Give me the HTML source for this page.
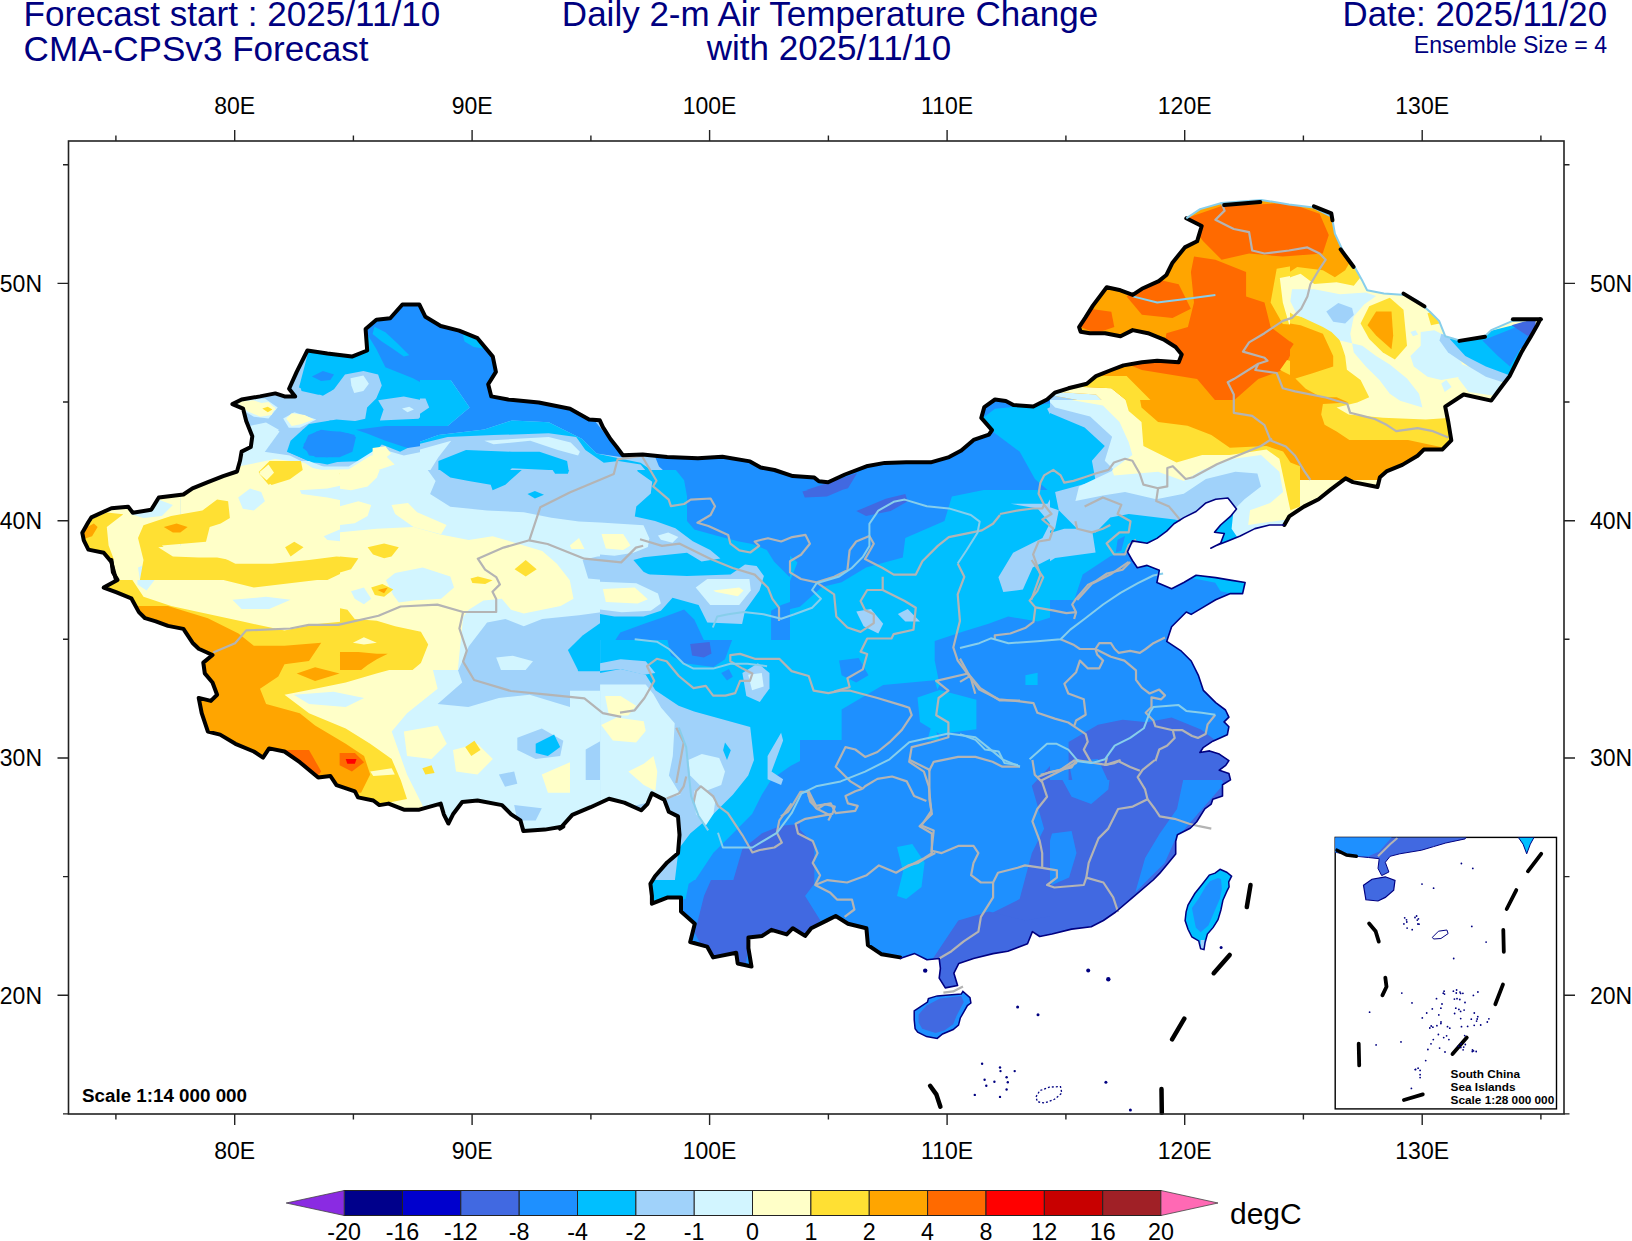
<!DOCTYPE html>
<html><head><meta charset="utf-8"><style>
html,body{margin:0;padding:0;background:#fff;width:1632px;height:1241px;overflow:hidden;position:relative}
svg text{font-family:"Liberation Sans",sans-serif}
</style></head><body>
<svg width="1632" height="1241" viewBox="0 0 1632 1241" style="position:absolute;left:0;top:0"><defs><clipPath id="cn"><path d="M116.0,579.9 L111.4,561.9 L103.7,552.7 L88.4,549.6 L83.8,540.4 L82.3,532.8 L88.4,522.0 L91.4,517.4 L111.4,508.2 L128.2,506.7 L132.8,512.8 L151.2,509.8 L158.8,497.5 L171.1,496.0 L183.4,494.5 L192.5,488.3 L207.9,482.2 L223.2,476.1 L237.0,471.5 L240.0,460.8 L241.6,451.6 L250.8,447.0 L252.3,436.2 L246.2,420.9 L243.1,408.7 L232.4,404.1 L241.6,399.5 L260.0,396.4 L275.3,393.4 L284.5,396.4 L295.2,396.4 L289.1,388.8 L296.7,371.9 L307.4,350.5 L327.4,353.5 L351.9,356.6 L367.2,350.5 L365.6,329.0 L376.4,319.8 L390.2,318.3 L402.4,304.5 L419.3,304.5 L425.4,316.8 L440.7,326.0 L459.1,330.6 L477.5,338.2 L492.8,356.6 L495.9,371.9 L488.2,384.2 L491.3,396.4 L508.1,399.5 L538.8,402.5 L570.0,408.7 L575.3,411.7 L589.1,419.4 L599.8,420.3 L602.9,427.1 L610.6,439.3 L616.7,447.0 L622.8,455.2 L642.7,454.6 L667.2,457.1 L697.9,458.3 L722.4,456.8 L750.0,461.4 L760.7,467.5 L774.5,470.0 L792.8,476.1 L814.3,477.6 L818.9,481.3 L828.1,482.2 L844.9,474.5 L866.4,466.3 L884.8,462.9 L906.2,462.3 L930.7,462.3 L949.1,457.1 L961.3,450.6 L973.6,439.9 L988.9,434.7 L992.0,430.1 L981.3,417.9 L984.3,407.1 L995.0,399.5 L1005.8,401.0 L1013.4,405.0 L1033.3,406.5 L1047.1,399.5 L1054.8,392.7 L1068.4,388.3 L1086.8,383.7 L1096.0,376.1 L1111.3,370.0 L1123.5,365.4 L1141.9,362.3 L1157.2,360.8 L1178.7,362.3 L1181.7,354.6 L1175.6,347.0 L1163.4,339.3 L1148.0,333.2 L1132.7,330.1 L1120.5,336.2 L1105.1,333.2 L1089.8,333.2 L1080.6,331.7 L1079.1,327.1 L1085.2,317.9 L1092.9,305.6 L1106.7,287.2 L1120.5,290.3 L1132.7,294.9 L1141.9,288.8 L1158.8,281.1 L1166.4,275.0 L1172.5,262.7 L1184.8,247.4 L1197.1,241.3 L1201.7,226.0 L1186.3,218.3 L1200.1,209.1 L1221.6,203.0 L1261.4,199.9 L1289.0,204.5 L1313.5,207.6 L1331.9,216.8 L1334.9,233.6 L1344.1,253.5 L1354.8,267.3 L1362.5,281.1 L1367.1,290.3 L1383.9,293.4 L1405.4,294.9 L1417.6,301.0 L1429.9,311.7 L1439.1,320.9 L1445.2,336.2 L1460.5,340.8 L1485.0,336.2 L1491.2,330.1 L1512.6,320.9 L1540.2,319.4 L1537.1,325.5 L1531.0,336.2 L1521.8,351.6 L1515.7,363.8 L1509.6,376.1 L1500.4,388.3 L1491.2,400.6 L1463.6,394.5 L1445.2,406.7 L1448.3,422.0 L1451.3,440.4 L1442.2,449.6 L1423.8,449.6 L1417.6,455.7 L1402.3,464.9 L1387.0,471.1 L1379.9,477.2 L1377.5,487.0 L1352.9,482.1 L1345.6,478.4 L1330.9,489.4 L1318.6,499.2 L1303.9,506.6 L1289.2,516.4 L1284.3,525.0 L1284.3,525.0 L1269.6,525.0 L1254.9,528.6 L1240.2,536.0 L1227.9,540.9 L1215.7,545.8 L1210.8,548.2 L1220.6,543.3 L1224.3,533.5 L1214.5,532.3 L1220.6,525.0 L1230.4,516.4 L1236.5,509.0 L1227.9,498.0 L1215.7,499.2 L1205.9,502.9 L1196.1,511.5 L1183.8,517.6 L1174.0,523.7 L1166.7,531.1 L1156.9,538.4 L1147.1,543.3 L1132.4,540.9 L1127.5,551.9 L1132.4,560.5 L1137.3,567.8 L1147.1,565.4 L1159.3,570.3 L1156.9,582.5 L1171.6,588.7 L1183.8,582.5 L1196.1,575.2 L1215.7,577.6 L1230.4,580.1 L1245.1,582.5 L1242.6,593.6 L1230.4,593.6 L1215.7,599.7 L1203.4,607.1 L1191.2,614.4 L1186.3,612.0 L1171.6,626.7 L1166.7,641.4 L1181.4,651.2 L1191.2,661.0 L1198.5,675.7 L1203.4,690.4 L1215.7,702.6 L1225.5,710.0 L1228.9,717.1 L1224.1,721.9 L1228.9,726.7 L1227.3,734.8 L1212.8,741.2 L1203.1,747.7 L1199.9,752.5 L1209.6,750.9 L1219.3,754.1 L1228.9,760.6 L1225.7,765.4 L1219.3,770.2 L1228.9,773.5 L1230.5,779.9 L1222.5,784.8 L1222.5,796.0 L1212.8,799.3 L1211.2,804.1 L1204.8,808.9 L1196.7,821.8 L1190.2,828.3 L1177.4,834.7 L1175.7,841.2 L1175.7,854.1 L1167.7,863.7 L1159.6,873.4 L1153.2,880.0 L1132.8,897.3 L1115.7,912.0 L1103.4,920.5 L1091.2,926.7 L1071.6,929.1 L1052.0,934.0 L1039.7,936.5 L1032.4,931.6 L1027.5,943.8 L1007.8,951.2 L993.1,953.6 L973.5,958.5 L958.8,963.4 L953.9,973.2 L957.6,985.5 L945.3,987.9 L939.2,978.1 L940.4,968.3 L939.2,958.5 L927.0,959.8 L914.7,953.6 L900.0,958.5 L900.1,957.4 L881.7,954.3 L867.9,945.1 L866.4,928.2 L848.0,923.7 L835.7,916.0 L826.5,920.6 L811.2,928.2 L805.1,935.9 L792.8,928.2 L786.7,934.4 L771.4,929.8 L762.2,935.9 L748.4,937.4 L748.4,948.2 L751.5,966.5 L737.7,963.5 L736.2,952.8 L713.2,957.4 L707.1,946.6 L690.2,942.0 L694.8,923.7 L681.0,911.4 L681.0,897.6 L667.2,897.6 L651.9,903.7 L651.9,896.1 L650.4,883.8 L655.0,876.2 L667.2,862.4 L678.0,853.2 L679.5,834.8 L678.0,816.4 L668.8,811.8 L664.2,799.6 L651.9,793.4 L647.3,804.2 L641.2,810.3 L624.3,802.6 L609.0,798.7 L590.6,807.2 L572.3,814.9 L560.0,828.7 L563.3,826.5 L544.9,829.6 L523.4,831.1 L520.4,820.4 L511.2,814.3 L502.0,805.1 L477.5,800.5 L462.2,802.0 L453.0,814.3 L448.4,823.5 L443.8,814.3 L440.7,803.6 L419.3,809.7 L403.9,809.7 L388.6,803.6 L379.4,805.1 L373.3,800.5 L358.0,797.4 L354.9,791.3 L336.5,785.2 L330.4,776.0 L318.2,777.5 L299.8,762.2 L284.5,751.5 L269.1,748.4 L263.0,757.6 L253.8,751.5 L235.4,743.8 L220.1,734.6 L207.9,731.6 L201.7,713.2 L198.7,697.9 L210.9,700.9 L217.1,694.8 L212.5,682.5 L204.8,673.4 L203.3,662.6 L212.5,655.0 L198.7,648.8 L192.5,642.7 L183.4,628.9 L168.0,625.9 L155.8,621.3 L145.1,618.2 L138.9,612.1 L131.3,598.3 L116.0,592.2 L103.7,587.6 L117.5,579.9 L112.9,572.3 L111.4,560.0Z"/></clipPath></defs><g clip-path="url(#cn)"><rect x="0" y="0" width="1632" height="1241" fill="#1e90ff"/><path d="M220.0,290.0 L520.0,290.0 L520.0,490.0 L220.0,490.0Z" fill="#a0d2fa"/><path d="M180.3,380.0 L370.0,380.0 L370.0,468.2 L327.4,466.4 L309.0,460.9 L272.2,459.0 L253.8,466.4 L235.4,471.9 L180.3,475.6Z" fill="#a0d2fa"/><path d="M310.1,345.1 L299.0,387.4 L322.9,395.7 L334.0,389.3 L345.0,374.6 L363.4,370.9 L378.1,374.6 L381.8,385.6 L376.2,398.5 L367.1,407.6 L365.2,418.7 L348.7,422.4 L330.3,420.5 L302.7,429.7 L288.0,451.8 L311.9,462.8 L367.1,461.0 L381.8,444.4 L400.1,451.8 L422.2,440.7 L449.8,442.6 L486.5,437.1 L520.0,437.1 L520.0,290.0 L310.1,290.0Z" fill="#00bfff"/><path d="M290.6,440.7 L309.0,424.1 L336.5,419.5 L370.0,422.3 L370.0,453.5 L349.4,459.0 L327.4,464.6 L309.0,460.9 L286.9,451.7Z" fill="#00bfff"/><path d="M299.8,385.5 L309.0,378.2 L336.5,378.2 L331.0,391.0 L318.2,394.7 L301.6,391.0Z" fill="#00bfff"/><path d="M239.1,457.2 L246.5,449.9 L253.8,459.0 L246.5,464.6Z" fill="#00bfff"/><path d="M365.2,328.6 L403.8,299.2 L520.0,299.2 L520.0,426.0 L486.5,426.9 L449.8,426.0 L470.0,409.5 L440.6,392.9 L413.0,378.2 L385.4,367.2 L376.2,348.8 L367.1,334.1Z" fill="#1e90ff"/><path d="M356.0,429.7 L385.4,426.0 L422.2,426.0 L449.8,426.0 L486.5,426.9 L520.0,424.2 L520.0,437.1 L486.5,438.9 L459.0,442.6 L431.4,444.4 L407.5,448.1 L385.4,440.7 L367.1,433.4Z" fill="#1e90ff"/><path d="M302.7,448.1 L308.2,435.2 L321.1,429.7 L348.7,433.4 L356.0,437.1 L352.4,451.8 L339.5,457.3 L315.6,457.3Z" fill="#1e90ff"/><path d="M311.9,376.4 L322.9,370.9 L334.0,374.6 L330.3,380.1 L321.1,381.0Z" fill="#1e90ff"/><path d="M303.5,444.3 L316.3,431.5 L340.2,431.5 L354.9,435.1 L349.4,451.7 L327.4,457.2 L309.0,455.4Z" fill="#1e90ff"/><path d="M378.1,400.3 L403.8,396.6 L422.2,400.3 L429.6,407.6 L418.5,418.7 L379.9,420.5 L383.6,409.5Z" fill="#a0d2fa"/><path d="M374.4,326.8 L385.4,332.3 L396.5,342.4 L409.3,355.3 L403.8,356.5 L392.8,348.8 L381.8,341.5 L372.6,334.1Z" fill="#00bfff"/><path d="M462.6,334.1 L481.0,339.6 L484.7,348.8 L473.7,347.0 L464.5,341.5Z" fill="#00bfff"/><path d="M436.9,462.8 L449.8,455.4 L468.2,449.9 L520.0,448.1 L520.0,490.0 L486.5,484.9 L459.0,475.7 L440.6,473.8Z" fill="#00bfff"/><path d="M350.5,378.2 L363.4,375.5 L368.9,383.8 L363.4,391.1 L354.2,392.9 L351.4,385.6Z" fill="#d2f5ff"/><path d="M220.0,404.0 L238.4,400.3 L249.4,426.0 L266.0,422.4 L278.8,429.7 L264.1,451.8 L289.9,455.4 L311.9,466.5 L348.7,466.5 L378.1,448.1 L403.8,455.4 L422.2,451.8 L440.6,442.6 L484.7,438.9 L520.0,437.1 L520.0,446.2 L486.5,451.8 L459.0,455.4 L436.9,459.1 L431.4,473.8 L440.6,490.0 L220.0,490.0Z" fill="#d2f5ff"/><path d="M235.4,400.2 L264.9,398.4 L277.7,407.6 L268.5,418.6 L253.8,416.8 L244.6,411.2Z" fill="#d2f5ff"/><path d="M283.2,418.6 L294.3,412.2 L316.3,419.5 L299.8,427.8 L288.8,427.8Z" fill="#d2f5ff"/><path d="M248.3,427.8 L264.9,423.2 L279.6,431.5 L264.9,451.7 L253.8,459.0 L246.5,453.5 L242.8,435.1Z" fill="#d2f5ff"/><path d="M180.3,482.9 L228.1,475.6 L244.6,468.2 L263.0,464.6 L281.4,460.9 L309.0,460.9 L327.4,468.2 L370.0,470.1 L370.0,580.0 L180.3,580.0Z" fill="#d2f5ff"/><path d="M402.0,408.6 L409.3,406.7 L413.9,409.5 L407.5,412.2Z" fill="#d2f5ff"/><path d="M220.0,473.8 L238.4,466.5 L256.8,462.8 L275.1,459.1 L304.6,462.8 L315.6,470.1 L348.7,469.2 L370.7,455.4 L385.4,455.4 L394.6,464.6 L367.1,473.8 L376.2,490.0 L220.0,490.0Z" fill="#ffffc8"/><path d="M236.5,402.1 L253.1,400.3 L275.1,407.6 L271.5,415.0 L260.4,416.8 L247.6,411.3Z" fill="#ffffc8"/><path d="M286.2,418.7 L291.7,413.2 L304.6,415.0 L313.8,419.6 L300.9,424.2 L291.7,426.0Z" fill="#ffffc8"/><path d="M372.6,448.1 L385.4,446.2 L391.0,453.6 L381.8,461.0 L372.6,457.3Z" fill="#ffffc8"/><path d="M253.8,403.9 L268.5,402.1 L275.9,409.4 L264.9,413.1Z" fill="#ffffc8"/><path d="M288.8,418.6 L301.6,416.8 L307.1,419.5 L296.1,423.2Z" fill="#ffffc8"/><path d="M180.3,490.3 L228.1,477.4 L253.8,472.8 L272.2,467.3 L299.8,465.5 L327.4,471.0 L370.0,472.8 L370.0,580.0 L180.3,580.0Z" fill="#ffffc8"/><path d="M70.0,508.7 L125.1,497.6 L180.3,490.3 L180.3,580.0 L70.0,580.0Z" fill="#ffffc8"/><path d="M238.2,497.6 L250.1,488.5 L261.2,492.1 L264.9,501.3 L253.8,510.5 L242.8,508.7Z" fill="#d2f5ff"/><path d="M299.8,490.3 L327.4,488.5 L370.0,479.3 L370.0,505.0 L345.7,501.3 L327.4,497.6 L301.6,494.0Z" fill="#d2f5ff"/><path d="M323.7,536.2 L345.7,527.1 L370.0,519.7 L370.0,538.1 L345.7,541.8 L327.4,539.9Z" fill="#d2f5ff"/><path d="M130.7,514.2 L158.2,499.5 L172.9,505.0 L161.9,516.0 L143.5,517.9Z" fill="#d2f5ff"/><path d="M138.0,567.5 L147.2,563.8 L154.6,580.0 L139.9,580.0Z" fill="#d2f5ff"/><path d="M262.3,408.6 L267.8,406.7 L272.4,409.5 L267.8,412.2Z" fill="#ffe033"/><path d="M258.6,472.0 L269.6,461.0 L300.9,461.0 L302.7,470.1 L289.9,479.3 L271.5,484.9Z" fill="#ffe033"/><path d="M339.5,473.8 L345.0,472.0 L348.7,474.7 L343.2,477.5Z" fill="#ffe033"/><path d="M138.0,538.1 L143.5,525.2 L171.1,516.0 L202.4,510.5 L217.1,499.5 L228.1,501.3 L229.9,517.9 L220.7,523.4 L209.7,527.1 L206.0,541.8 L161.9,545.4 L172.9,554.6 L202.4,556.5 L217.1,554.6 L235.4,563.8 L272.2,563.8 L309.0,560.1 L336.5,556.5 L358.6,558.3 L345.7,571.2 L327.4,580.0 L139.9,580.0 L143.5,560.1Z" fill="#ffe033"/><path d="M259.3,473.8 L270.4,462.7 L299.8,460.9 L301.6,468.2 L290.6,475.6 L268.5,484.8Z" fill="#ffe033"/><path d="M285.1,547.3 L294.3,541.8 L303.5,547.3 L290.6,556.5Z" fill="#ffe033"/><path d="M340.2,473.8 L345.7,471.9 L347.6,475.6 L343.9,477.4Z" fill="#ffe033"/><path d="M70.0,534.4 L90.2,519.7 L106.8,512.4 L123.3,514.2 L106.8,527.1 L108.6,545.4 L114.1,560.1 L101.2,552.8 L70.0,554.6Z" fill="#ffe033"/><path d="M259.5,472.0 L267.8,465.6 L273.3,472.0 L266.9,479.3Z" fill="#ffffc8"/><path d="M158.2,547.3 L207.9,543.6 L217.1,551.0 L235.4,561.1 L217.1,557.4 L198.7,557.4 L172.9,556.5Z" fill="#ffffc8"/><path d="M259.3,473.8 L268.5,464.6 L274.0,472.8 L266.7,480.2Z" fill="#ffffc8"/><path d="M70.0,536.2 L93.9,523.4 L97.6,527.1 L92.1,536.2 L81.0,539.9Z" fill="#ffa500"/><path d="M163.8,527.1 L176.6,523.4 L187.6,527.1 L180.3,532.6 L172.9,532.6Z" fill="#ffa500"/><clipPath id="t0"><rect x="70" y="580" width="500" height="280"/></clipPath><g clip-path="url(#t0)"><rect x="70" y="580" width="500" height="280" fill="#ffffc8"/><path d="M146.6,556.9 L351.9,556.9 L330.4,578.4 L253.8,587.6 L217.1,578.4 L161.9,572.3 L140.5,566.1Z" fill="#ffe033"/><path d="M137.4,569.2 L155.8,578.4 L146.6,590.6 L137.4,584.5Z" fill="#d2f5ff"/><path d="M232.4,599.8 L266.1,596.8 L290.6,599.8 L269.1,609.0 L241.6,609.0Z" fill="#d2f5ff"/><path d="M351.9,590.6 L376.4,589.1 L379.4,599.8 L358.0,602.9Z" fill="#d2f5ff"/><path d="M100.6,578.4 L131.3,578.4 L143.5,596.8 L171.1,606.0 L198.7,612.1 L241.6,621.3 L284.5,630.5 L315.1,624.3 L345.7,621.3 L376.4,618.2 L407.0,624.3 L425.4,639.7 L422.3,661.1 L376.4,673.4 L345.7,682.5 L315.1,688.7 L284.5,694.8 L309.0,713.2 L345.7,728.5 L370.2,743.8 L391.7,759.1 L400.9,780.6 L407.0,799.0 L376.4,805.1 L345.7,802.0 L284.5,774.5 L223.2,759.1 L192.5,743.8 L161.9,713.2 L131.3,651.9 L100.6,606.0Z" fill="#ffe033"/><path d="M168.0,606.0 L207.9,618.2 L238.5,633.5 L253.8,645.8 L284.5,645.8 L321.2,642.7 L309.0,661.1 L284.5,664.2 L278.3,676.4 L260.0,688.7 L266.1,704.0 L299.8,713.2 L315.1,725.4 L345.7,743.8 L364.1,756.1 L370.2,774.5 L361.1,792.8 L339.6,792.8 L315.1,774.5 L284.5,762.2 L253.8,756.1 L223.2,750.0 L192.5,731.6 L161.9,688.7 L146.6,636.6 L116.0,596.8 L100.6,584.5 L131.3,606.0Z" fill="#ffa500"/><path d="M284.5,750.0 L309.0,750.0 L321.2,771.4 L315.1,779.1 L290.6,762.2Z" fill="#ff6a00"/><path d="M339.6,753.0 L354.9,753.0 L364.1,762.2 L351.9,771.4 L339.6,765.3Z" fill="#ff6a00"/><path d="M345.7,759.1 L356.5,759.1 L354.9,763.7 L347.3,763.7Z" fill="#ff0000"/><path d="M296.7,673.4 L315.1,667.2 L339.6,673.4 L315.1,681.0Z" fill="#ffa500"/><path d="M339.6,655.0 L361.1,651.9 L385.6,655.0 L361.1,667.2Z" fill="#ffa500"/><path d="M351.9,639.7 L364.1,636.6 L376.4,642.7 L364.1,645.8Z" fill="#ffffc8"/><path d="M370.2,771.4 L391.7,768.3 L394.8,774.5 L373.3,776.0Z" fill="#ffffc8"/><path d="M293.7,694.8 L333.5,691.7 L364.1,697.9 L345.7,707.1 L309.0,704.0Z" fill="#d2f5ff"/><path d="M382.5,578.4 L453.0,572.3 L468.3,556.9 L570.0,556.9 L570.0,859.9 L437.6,859.9 L422.3,805.1 L407.0,774.5 L391.7,731.6 L407.0,713.2 L437.6,688.7 L431.5,664.2 L437.6,645.8 L453.0,621.3 L407.0,593.7Z" fill="#d2f5ff"/><path d="M446.8,587.6 L468.3,599.8 L498.9,612.1 L570.0,602.9 L570.0,556.9 L477.5,556.9Z" fill="#ffffc8"/><path d="M456.0,642.7 L498.9,618.2 L570.0,615.1 L570.0,707.1 L529.6,694.8 L498.9,697.9 L468.3,707.1 L437.6,704.0 L462.2,682.5 L456.0,664.2Z" fill="#a0d2fa"/><path d="M403.9,731.6 L437.6,725.4 L446.8,743.8 L431.5,759.1 L407.0,756.1Z" fill="#ffffc8"/><path d="M453.0,750.0 L477.5,743.8 L492.8,759.1 L477.5,774.5 L456.0,771.4Z" fill="#ffffc8"/><path d="M465.2,746.9 L474.4,740.8 L480.5,750.0 L471.3,756.1Z" fill="#ffe033"/><path d="M422.3,768.3 L431.5,765.3 L434.6,772.9 L425.4,774.5Z" fill="#ffe033"/><path d="M517.3,737.7 L541.8,728.5 L563.3,740.8 L560.2,756.1 L535.7,759.1 L517.3,750.0Z" fill="#a0d2fa"/><path d="M535.7,743.8 L554.1,734.6 L560.2,746.9 L547.9,756.1 L535.7,753.0Z" fill="#00bfff"/><path d="M498.9,774.5 L514.2,771.4 L517.3,783.7 L505.0,786.7Z" fill="#a0d2fa"/><path d="M514.2,805.1 L541.8,808.2 L535.7,820.4 L517.3,820.4Z" fill="#a0d2fa"/><path d="M541.8,774.5 L570.0,762.2 L570.0,792.8 L547.9,792.8Z" fill="#ffffc8"/></g><clipPath id="t1"><rect x="370" y="490" width="200" height="90"/><rect x="570" y="490" width="200" height="290"/></clipPath><g clip-path="url(#t1)"><rect x="370" y="490" width="200" height="90" fill="#d2f5ff"/><rect x="570" y="490" width="200" height="290" fill="#d2f5ff"/><path d="M367.5,477.5 L571.0,477.5 L573.4,529.0 L541.6,536.4 L492.5,536.4 L443.5,538.8 L370.0,536.4Z" fill="#ffffc8"/><path d="M367.5,560.9 L472.9,560.9 L487.6,597.6 L468.0,617.3 L463.1,700.6 L367.5,700.6Z" fill="#ffffc8"/><path d="M384.7,568.2 L419.0,565.8 L455.8,573.1 L450.9,590.3 L419.0,595.2 L384.7,590.3Z" fill="#d2f5ff"/><path d="M428.8,480.0 L639.6,480.0 L639.6,514.3 L590.6,524.1 L541.6,511.9 L443.5,507.0 L431.3,494.7Z" fill="#a0d2fa"/><path d="M634.7,511.9 L654.3,480.0 L770.0,480.0 L770.0,607.5 L752.4,587.8 L725.4,575.6 L664.1,570.7 L629.8,558.4 L651.9,546.2 L688.6,543.7 L651.9,529.0Z" fill="#00bfff"/><path d="M686.2,480.0 L770.0,480.0 L770.0,551.1 L737.6,538.8 L708.2,529.0 L688.6,514.3Z" fill="#1e90ff"/><path d="M583.2,560.9 L629.8,558.4 L664.1,570.7 L725.4,575.6 L770.0,607.5 L770.0,780.0 L431.3,780.0 L431.3,705.5 L455.8,663.8 L472.9,627.1 L517.1,617.3 L585.7,582.9Z" fill="#a0d2fa"/><path d="M566.1,646.7 L590.6,627.1 L615.1,617.3 L651.9,612.4 L676.4,597.6 L700.9,602.5 L725.4,617.3 L770.0,617.3 L770.0,780.0 L742.5,780.0 L737.6,737.4 L713.1,712.8 L676.4,707.9 L654.3,695.7 L639.6,676.1 L615.1,666.3 L602.8,671.2 L578.3,671.2Z" fill="#00bfff"/><path d="M620.0,634.4 L664.1,622.2 L678.8,609.9 L696.0,617.3 L713.1,641.8 L730.3,656.5 L713.1,666.3 L688.6,666.3 L664.1,651.6 L639.6,641.8Z" fill="#1e90ff"/><path d="M691.1,641.8 L700.9,639.3 L710.7,646.7 L705.8,656.5 L691.1,654.0Z" fill="#4169e1"/><path d="M696.0,585.4 L713.1,578.0 L749.9,580.5 L742.5,605.0 L703.3,605.0Z" fill="#d2f5ff"/><path d="M713.1,590.3 L742.5,587.8 L735.2,596.4 L718.0,595.2Z" fill="#ffffc8"/><path d="M504.8,661.4 L529.3,656.5 L558.7,673.6 L541.6,681.0 L517.1,685.9 L507.3,676.1Z" fill="#d2f5ff"/><path d="M431.3,705.5 L468.0,695.7 L517.1,698.1 L566.1,690.8 L615.1,690.8 L639.6,683.4 L664.1,695.7 L676.4,725.1 L688.6,749.6 L737.6,780.0 L431.3,780.0Z" fill="#d2f5ff"/><path d="M517.1,725.1 L546.5,722.6 L566.1,734.9 L566.1,754.5 L541.6,759.4 L517.1,749.6Z" fill="#a0d2fa"/><path d="M529.3,734.9 L546.5,732.5 L561.2,739.8 L556.3,754.5 L536.7,754.5Z" fill="#00bfff"/><path d="M585.7,749.6 L602.8,739.8 L615.1,780.0 L585.7,780.0Z" fill="#a0d2fa"/><path d="M370.0,617.3 L419.0,605.0 L463.1,612.4 L468.0,632.0 L458.2,666.3 L443.5,690.8 L419.0,700.6 L370.0,700.6Z" fill="#ffffc8"/><path d="M370.0,619.7 L406.8,622.2 L426.4,636.9 L426.4,651.6 L419.0,666.3 L389.6,671.2 L370.0,671.2Z" fill="#ffe033"/><path d="M370.0,651.6 L384.7,654.0 L370.0,661.4Z" fill="#ffa500"/><path d="M392.1,502.1 L409.2,499.6 L443.5,519.2 L438.6,533.9 L419.0,538.8 L394.5,529.0Z" fill="#ffffc8"/><path d="M477.8,551.1 L517.1,543.7 L553.8,553.5 L573.4,582.9 L573.4,602.5 L556.3,609.9 L517.1,612.4 L492.5,597.6 L490.1,578.0Z" fill="#ffffc8"/><path d="M514.6,568.2 L526.9,560.9 L536.7,569.5 L524.4,576.8Z" fill="#ffe033"/><path d="M370.0,546.2 L394.5,543.7 L397.0,551.1 L384.7,556.0 L370.0,553.5Z" fill="#ffe033"/><path d="M374.9,590.3 L389.6,585.4 L392.1,592.7 L379.8,596.4Z" fill="#ffe033"/><path d="M470.5,578.0 L487.6,576.8 L490.1,582.9 L472.9,582.9Z" fill="#ffe033"/><path d="M602.8,587.8 L627.4,585.4 L651.9,597.6 L639.6,605.0 L610.2,605.0Z" fill="#ffffc8"/><path d="M600.4,536.4 L627.4,533.9 L632.3,546.2 L607.7,548.6Z" fill="#ffffc8"/><path d="M605.3,695.7 L634.7,700.6 L644.5,712.8 L629.8,720.2 L605.3,715.3Z" fill="#ffffc8"/><path d="M600.4,720.2 L639.6,715.3 L644.5,737.4 L634.7,749.6 L605.3,739.8Z" fill="#ffffc8"/><path d="M392.1,739.8 L443.5,744.7 L492.5,749.6 L487.6,780.0 L392.1,780.0Z" fill="#ffffc8"/><path d="M465.6,749.6 L472.9,744.7 L479.1,749.6 L472.9,757.0Z" fill="#ffe033"/></g><clipPath id="t2"><rect x="520" y="280" width="530" height="210"/></clipPath><g clip-path="url(#t2)"><rect x="520" y="280" width="530" height="210" fill="#1e90ff"/><path d="M514.0,396.4 L575.3,408.7 L599.8,420.9 L612.1,439.3 L624.3,457.7 L639.7,476.1 L651.9,500.6 L514.0,500.6Z" fill="#00bfff"/><path d="M514.0,451.6 L560.0,451.6 L590.6,463.8 L621.3,476.1 L633.5,494.5 L514.0,500.6Z" fill="#a0d2fa"/><path d="M514.0,433.2 L560.0,433.2 L581.4,451.6 L569.2,463.8 L514.0,457.7Z" fill="#d2f5ff"/><path d="M802.0,491.4 L829.6,482.2 L857.2,473.0 L848.0,488.3 L814.3,497.5Z" fill="#4169e1"/><path d="M982.8,417.9 L995.0,408.7 L1060.0,402.5 L1060.0,500.6 L1034.9,479.1 L1019.6,451.6 L995.0,433.2Z" fill="#00bfff"/><path d="M1047.1,408.7 L1060.0,402.5 L1060.0,427.1 L1053.3,420.9Z" fill="#a0d2fa"/></g><clipPath id="t3"><rect x="1050" y="190" width="520" height="210"/><rect x="1300" y="400" width="270" height="80"/></clipPath><g clip-path="url(#t3)"><rect x="1050" y="190" width="520" height="210" fill="#ffa500"/><rect x="1300" y="400" width="270" height="80" fill="#ffa500"/><path d="M1046.9,406.7 L1068.4,412.8 L1086.8,431.2 L1099.0,479.9 L1046.9,479.9Z" fill="#00bfff"/><path d="M1046.9,394.5 L1080.6,400.6 L1102.1,425.1 L1117.4,479.9 L1099.0,479.9 L1086.8,431.2 L1068.4,412.8 L1046.9,408.2Z" fill="#a0d2fa"/><path d="M1046.9,391.4 L1096.0,394.5 L1126.6,425.1 L1141.9,479.9 L1117.4,479.9 L1102.1,425.1 L1080.6,400.6 L1046.9,394.5Z" fill="#d2f5ff"/><path d="M1046.9,385.3 L1111.3,388.3 L1141.9,412.8 L1154.2,449.6 L1172.5,479.9 L1141.9,479.9 L1126.6,425.1 L1096.0,394.5 L1046.9,391.4Z" fill="#ffffc8"/><path d="M1046.9,376.1 L1126.6,376.1 L1151.1,400.6 L1166.4,431.2 L1221.6,443.5 L1264.5,461.9 L1282.8,479.9 L1172.5,479.9 L1154.2,449.6 L1141.9,412.8 L1111.3,388.3 L1046.9,385.3Z" fill="#ffe033"/><path d="M1080.6,327.1 L1089.8,308.7 L1111.3,311.7 L1114.3,327.1 L1096.0,333.2Z" fill="#ff6a00"/><path d="M1126.6,296.4 L1151.1,278.0 L1178.7,284.2 L1190.9,308.7 L1172.5,317.9 L1141.9,314.8Z" fill="#ff6a00"/><path d="M1186.3,218.3 L1221.6,206.0 L1289.0,203.0 L1319.6,213.7 L1328.8,235.1 L1322.7,253.5 L1282.8,256.6 L1249.1,253.5 L1221.6,259.7 L1203.2,241.3 L1194.0,229.0Z" fill="#ff6a00"/><path d="M1194.0,256.6 L1215.4,259.7 L1246.1,271.9 L1246.1,296.4 L1264.5,302.5 L1270.6,327.1 L1295.1,345.4 L1282.8,370.0 L1258.3,379.1 L1233.8,400.6 L1215.4,400.6 L1197.1,379.1 L1178.7,376.1 L1141.9,370.0 L1126.6,363.8 L1163.4,351.6 L1166.4,333.2 L1187.9,327.1 L1194.0,302.5 L1190.9,271.9Z" fill="#ff6a00"/><path d="M1276.7,268.8 L1310.4,262.7 L1344.1,271.9 L1356.4,281.1 L1371.7,290.3 L1356.4,308.7 L1325.7,345.4 L1331.9,363.8 L1350.2,382.2 L1356.4,394.5 L1387.0,406.7 L1417.6,415.9 L1448.3,434.3 L1448.3,412.8 L1433.0,394.5 L1417.6,379.1 L1402.3,363.8 L1387.0,357.7 L1356.4,351.6 L1325.7,327.1 L1282.8,324.0 L1270.6,302.5Z" fill="#ffe033"/><path d="M1279.8,278.0 L1310.4,271.9 L1356.4,287.2 L1417.6,296.4 L1448.3,327.1 L1442.2,363.8 L1448.3,394.5 L1417.6,406.7 L1371.7,394.5 L1344.1,370.0 L1325.7,339.3 L1289.0,324.0 L1282.8,302.5Z" fill="#ffffc8"/><path d="M1292.0,287.2 L1307.4,284.2 L1341.1,296.4 L1371.7,302.5 L1402.3,296.4 L1417.6,308.7 L1426.8,333.2 L1448.3,351.6 L1442.2,382.2 L1417.6,394.5 L1387.0,388.3 L1350.2,357.7 L1331.9,327.1 L1307.4,314.8 L1295.1,308.7Z" fill="#d2f5ff"/><path d="M1325.7,308.7 L1341.1,302.5 L1353.3,311.7 L1344.1,324.0 L1328.8,320.9Z" fill="#a0d2fa"/><path d="M1362.5,314.8 L1374.8,299.5 L1396.2,302.5 L1405.4,324.0 L1399.3,351.6 L1383.9,357.7 L1368.6,339.3Z" fill="#ffe033"/><path d="M1368.6,320.9 L1380.9,308.7 L1393.1,314.8 L1393.1,339.3 L1387.0,345.4 L1374.8,333.2Z" fill="#ffa500"/><path d="M1426.8,314.8 L1436.0,311.7 L1440.6,322.5 L1431.4,324.0Z" fill="#ffe033"/><path d="M1442.2,327.1 L1478.9,333.2 L1509.6,363.8 L1503.4,394.5 L1478.9,400.6 L1448.3,394.5 L1448.3,363.8Z" fill="#ffffc8"/><path d="M1445.2,336.2 L1478.9,339.3 L1509.6,370.0 L1497.3,391.4 L1472.8,388.3 L1448.3,363.8Z" fill="#d2f5ff"/><path d="M1448.3,336.2 L1485.0,333.2 L1515.7,351.6 L1550.0,357.7 L1550.0,394.5 L1509.6,382.2 L1478.9,370.0 L1454.4,351.6Z" fill="#a0d2fa"/><path d="M1457.5,339.3 L1485.0,327.1 L1540.2,320.9 L1550.0,324.0 L1550.0,376.1 L1515.7,370.0 L1478.9,357.7Z" fill="#00bfff"/><path d="M1485.0,330.1 L1540.2,317.9 L1550.0,320.9 L1550.0,351.6 L1527.9,351.6 L1503.4,345.4Z" fill="#1e90ff"/><path d="M1509.6,324.0 L1546.3,314.8 L1550.0,317.9 L1537.1,336.2 L1518.8,333.2Z" fill="#4169e1"/></g><clipPath id="t4"><rect x="770" y="490" width="300" height="250"/></clipPath><g clip-path="url(#t4)"><rect x="770" y="490" width="300" height="250" fill="#00bfff"/><path d="M687.2,459.6 L1032.7,449.8 L1032.7,464.5 L1022.9,481.7 L988.6,489.0 L951.9,496.4 L944.5,520.9 L905.3,538.0 L902.8,557.6 L866.1,567.5 L841.6,582.2 L822.0,587.1 L799.9,606.7 L780.3,611.6 L768.0,596.9 L787.6,587.1 L797.5,562.5 L775.4,542.9 L743.5,538.0 L719.0,530.7 L692.1,513.5 L687.2,489.0Z" fill="#1e90ff"/><path d="M802.4,491.5 L841.6,481.7 L858.7,474.3 L856.3,484.1 L826.9,496.4 L804.8,497.6Z" fill="#4169e1"/><path d="M856.3,511.1 L885.7,498.8 L905.3,493.9 L907.7,501.3 L890.6,511.1 L866.1,516.0Z" fill="#4169e1"/><path d="M934.7,641.0 L964.1,631.2 L988.6,623.8 L1008.2,616.5 L1037.6,621.4 L1070.0,611.6 L1070.0,740.0 L939.6,740.0 L927.4,709.6 L939.6,685.1 L934.7,660.6Z" fill="#1e90ff"/><path d="M883.2,685.1 L934.7,680.2 L939.6,697.4 L927.4,740.0 L841.6,740.0 L841.6,709.6Z" fill="#1e90ff"/><path d="M917.5,697.4 L939.6,690.0 L976.4,699.8 L976.4,729.2 L939.6,734.1 L920.0,721.9Z" fill="#00bfff"/><path d="M1025.4,675.3 L1037.6,672.8 L1037.6,685.1 L1025.4,685.1Z" fill="#00bfff"/><path d="M839.1,660.6 L858.7,658.1 L868.5,675.3 L856.3,682.6 L841.6,675.3Z" fill="#1e90ff"/><path d="M1052.4,587.1 L1070.0,572.4 L1070.0,611.6 L1052.4,601.8Z" fill="#1e90ff"/><path d="M856.3,611.6 L871.0,609.1 L883.2,623.8 L878.3,633.6 L863.6,626.3Z" fill="#a0d2fa"/><path d="M897.9,614.0 L907.7,609.1 L920.0,621.4 L905.3,621.4Z" fill="#a0d2fa"/><path d="M1010.7,503.7 L1037.6,508.6 L1049.9,523.3 L1042.5,538.0 L1013.1,552.7 L998.4,577.3 L1003.3,592.0 L1022.9,589.5 L1032.7,567.5 L1052.4,557.6 L1070.0,545.4 L1070.0,489.0 L1057.3,486.6 L1047.5,503.7Z" fill="#a0d2fa"/></g><clipPath id="t5"><rect x="1050" y="400" width="250" height="200"/></clipPath><g clip-path="url(#t5)"><rect x="1050" y="400" width="250" height="200" fill="#00bfff"/><path d="M1042.3,398.2 L1049.6,412.9 L1084.6,427.6 L1104.8,446.0 L1091.9,460.7 L1095.6,480.9 L1055.1,491.9 L1058.8,510.3 L1077.2,528.7 L1095.6,532.4 L1110.3,517.6 L1128.7,514.0 L1174.6,519.5 L1182.0,521.3 L1202.2,510.3 L1300.0,510.3 L1300.0,398.2Z" fill="#a0d2fa"/><path d="M1046.0,398.2 L1055.1,407.4 L1090.1,416.5 L1112.1,436.8 L1104.8,460.7 L1114.0,469.9 L1079.0,486.4 L1075.4,501.1 L1102.9,495.6 L1125.0,491.9 L1156.2,499.3 L1183.8,493.8 L1205.9,479.0 L1235.3,471.7 L1257.4,473.5 L1261.0,486.4 L1244.5,499.3 L1233.5,510.3 L1231.6,528.7 L1239.0,539.7 L1300.0,539.7 L1300.0,398.2Z" fill="#d2f5ff"/><path d="M1060.7,398.2 L1102.9,405.5 L1119.5,422.1 L1128.7,442.3 L1132.4,455.1 L1112.1,469.9 L1114.0,475.4 L1158.1,471.7 L1183.8,480.9 L1202.2,469.9 L1233.5,458.8 L1261.0,455.1 L1279.4,471.7 L1283.1,491.9 L1270.2,502.9 L1250.0,510.3 L1248.2,525.0 L1300.0,517.6 L1300.0,398.2Z" fill="#ffffc8"/><path d="M1125.0,398.2 L1128.7,411.0 L1141.5,422.1 L1143.4,446.0 L1176.5,462.5 L1202.2,455.1 L1229.8,455.1 L1266.5,449.6 L1279.4,458.8 L1290.4,510.3 L1300.0,506.6 L1300.0,398.2Z" fill="#ffe033"/><path d="M1139.7,398.2 L1141.5,407.4 L1158.1,422.1 L1187.5,425.7 L1211.4,434.9 L1229.8,447.8 L1266.5,446.0 L1283.1,451.5 L1290.4,462.5 L1300.0,466.2 L1300.0,398.2Z" fill="#ffa500"/><path d="M1290.4,420.2 L1300.0,416.5 L1300.0,429.4 L1294.1,427.6Z" fill="#ff6a00"/><path d="M998.2,423.9 L1011.0,422.1 L1033.1,446.0 L1034.9,460.7 L1023.9,473.5 L998.2,477.2Z" fill="#1e90ff"/><path d="M1073.5,602.2 L1082.7,574.6 L1110.3,556.2 L1128.7,550.7 L1139.7,565.4 L1165.4,572.8 L1183.8,576.5 L1220.6,583.8 L1239.0,593.0 L1239.0,602.2Z" fill="#1e90ff"/><path d="M1011.0,504.8 L1036.8,502.9 L1058.8,510.3 L1055.1,528.7 L1036.8,536.0 L1014.7,525.0Z" fill="#a0d2fa"/><path d="M998.2,565.4 L1018.4,543.4 L1046.0,534.2 L1064.3,528.7 L1091.9,528.7 L1095.6,552.6 L1055.1,558.1 L1036.8,569.1 L1027.6,583.8 L1023.9,602.2 L998.2,602.2Z" fill="#a0d2fa"/><path d="M1117.6,539.7 L1125.0,536.0 L1121.3,550.7 L1115.8,552.6Z" fill="#1e90ff"/><path d="M1211.4,576.5 L1246.3,582.0 L1239.0,594.9 L1220.6,591.2Z" fill="#00bfff"/></g><clipPath id="t6"><rect x="1050" y="600" width="350" height="180"/><rect x="1300" y="480" width="100" height="120"/></clipPath><g clip-path="url(#t6)"><rect x="1050" y="600" width="350" height="180" fill="#1e90ff"/><rect x="1300" y="480" width="100" height="120" fill="#1e90ff"/><path d="M997.5,553.1 L1034.3,562.9 L1027.0,597.3 L997.5,597.3Z" fill="#a0d2fa"/><path d="M997.5,592.4 L1036.8,597.3 L1034.3,621.8 L1029.4,631.6 L997.5,631.6Z" fill="#00bfff"/><path d="M1027.0,675.7 L1036.8,673.2 L1036.8,685.5 L1027.0,685.5Z" fill="#00bfff"/><path d="M1068.6,741.9 L1098.0,724.7 L1122.5,719.8 L1147.1,722.3 L1171.6,717.4 L1201.0,729.6 L1220.6,744.3 L1402.0,744.3 L1402.0,786.0 L1068.6,786.0Z" fill="#4169e1"/><path d="M1068.6,761.5 L1098.0,759.0 L1110.3,786.0 L1073.5,786.0Z" fill="#1e90ff"/><path d="M1367.6,776.2 L1402.0,766.4 L1402.0,786.0 L1367.6,786.0Z" fill="#1e90ff"/><path d="M997.5,739.4 L1014.7,739.4 L1014.7,761.5 L997.5,761.5Z" fill="#4169e1"/><path d="M1284.3,457.5 L1400.0,457.5 L1400.0,533.5 L1284.3,523.7Z" fill="#ffffc8"/></g><clipPath id="t7"><rect x="570" y="780" width="480" height="290"/><rect x="770" y="740" width="280" height="40"/></clipPath><g clip-path="url(#t7)"><rect x="570" y="780" width="480" height="290" fill="#1e90ff"/><rect x="770" y="740" width="280" height="40" fill="#1e90ff"/><path d="M556.9,696.9 L750.0,696.9 L750.0,746.0 L743.8,776.6 L725.4,801.1 L697.9,837.9 L679.5,847.1 L556.9,847.1Z" fill="#a0d2fa"/><path d="M556.9,696.9 L661.1,696.9 L667.2,724.5 L688.7,752.1 L691.7,791.9 L676.4,804.2 L556.9,816.4Z" fill="#d2f5ff"/><path d="M599.8,718.4 L645.8,712.3 L645.8,739.8 L612.1,742.9Z" fill="#ffffc8"/><path d="M556.9,755.1 L578.4,758.2 L556.9,798.0Z" fill="#ffffc8"/><path d="M627.4,764.3 L651.9,758.2 L658.0,785.8 L630.5,779.7Z" fill="#ffffc8"/><path d="M688.7,755.1 L716.2,758.2 L722.4,785.8 L713.2,791.9 L700.9,816.4 L694.8,791.9Z" fill="#d2f5ff"/><path d="M676.4,696.9 L884.8,696.9 L848.0,718.4 L829.6,736.8 L805.1,730.6 L786.7,749.0 L774.5,776.6 L768.3,798.0 L743.8,828.7 L731.6,853.2 L707.1,871.6 L688.7,883.8 L685.6,899.1 L651.9,902.2 L648.8,871.6 L676.4,847.1 L697.9,834.8 L725.4,798.0 L743.8,773.5 L750.0,746.0 L750.0,718.4Z" fill="#00bfff"/><path d="M915.4,696.9 L979.7,696.9 L964.4,718.4 L946.0,727.6 L927.6,718.4Z" fill="#00bfff"/><path d="M897.0,847.1 L912.3,844.0 L924.6,862.4 L921.5,886.9 L906.2,899.1 L897.0,896.1 L903.1,871.6Z" fill="#00bfff"/><path d="M725.4,847.1 L759.1,834.8 L799.0,828.7 L814.3,844.0 L814.3,883.8 L805.1,896.1 L820.4,920.6 L805.1,932.8 L750.0,939.0 L743.8,975.7 L713.2,969.6 L694.8,932.8 L704.0,896.1Z" fill="#4169e1"/><path d="M1031.8,785.8 L1060.0,755.1 L1060.0,1003.3 L1025.7,1003.3 L1019.6,932.8 L988.9,914.5 L1019.6,899.1 L1031.8,853.2 L1044.1,828.7Z" fill="#4169e1"/><path d="M927.6,966.5 L958.3,920.6 L988.9,911.4 L1025.7,920.6 L1060.0,914.5 L1060.0,1003.3 L927.6,1003.3Z" fill="#4169e1"/></g><clipPath id="t8"><rect x="1050" y="780" width="250" height="290"/></clipPath><g clip-path="url(#t8)"><rect x="1050" y="780" width="250" height="290" fill="#4169e1"/><path d="M897.5,757.5 L1037.3,757.5 L1034.8,784.5 L1032.4,809.0 L1027.5,862.9 L1025.0,894.8 L1007.8,912.0 L993.1,907.1 L978.4,916.9 L961.3,936.5 L949.0,948.7 L924.5,956.1 L897.5,953.6Z" fill="#1e90ff"/><path d="M1056.9,769.8 L1110.8,769.8 L1108.3,789.4 L1091.2,804.1 L1071.6,796.8Z" fill="#1e90ff"/><path d="M1052.0,833.5 L1071.6,831.1 L1076.5,853.1 L1069.1,877.6 L1052.0,885.0 L1042.2,867.8Z" fill="#1e90ff"/><path d="M1184.3,774.7 L1218.6,769.8 L1223.5,784.5 L1206.4,804.1 L1189.2,823.7 L1174.5,840.9 L1164.7,862.9 L1150.0,877.6 L1135.3,892.4 L1145.1,858.0 L1159.8,833.5 L1177.0,809.0Z" fill="#1e90ff"/></g><clipPath id="t9"><rect x="420" y="380" width="300" height="110"/></clipPath><g clip-path="url(#t9)"><rect x="420" y="380" width="300" height="110" fill="#a0d2fa"/><path d="M420.0,426.0 L447.6,426.0 L469.6,407.6 L449.4,378.2 L493.5,378.2 L489.9,394.7 L548.7,402.1 L594.6,420.4 L614.9,446.2 L622.2,457.2 L596.5,453.5 L581.8,438.8 L548.7,422.3 L511.9,420.4 L484.3,429.6 L438.4,435.1 L418.2,442.5Z" fill="#1e90ff"/><path d="M418.2,378.2 L449.4,378.2 L469.6,407.6 L447.6,426.0 L418.2,426.0Z" fill="#00bfff"/><path d="M418.2,398.4 L425.5,398.4 L429.2,407.6 L418.2,414.9Z" fill="#a0d2fa"/><path d="M418.2,442.5 L438.4,435.1 L484.3,429.6 L511.9,420.4 L548.7,422.3 L581.8,438.8 L596.5,453.5 L622.2,459.0 L640.6,462.7 L659.0,475.6 L681.0,490.3 L686.5,501.3 L418.2,501.3Z" fill="#00bfff"/><path d="M418.2,444.3 L447.6,437.0 L493.5,435.1 L548.7,433.3 L576.2,437.0 L585.4,449.9 L603.8,462.7 L618.5,460.9 L640.6,464.6 L649.8,475.6 L653.5,482.9 L659.0,501.3 L418.2,501.3Z" fill="#a0d2fa"/><path d="M484.3,440.7 L548.7,437.0 L570.7,442.5 L579.9,451.7 L578.1,455.4 L557.9,449.9 L530.3,440.7 L493.5,444.3Z" fill="#d2f5ff"/><path d="M418.2,449.9 L451.2,440.7 L438.4,457.2 L429.2,471.9 L434.7,490.3 L429.2,501.3 L418.2,501.3Z" fill="#d2f5ff"/><path d="M438.4,460.9 L466.0,449.9 L511.9,451.7 L539.5,451.7 L567.1,460.9 L568.9,471.9 L548.7,470.1 L511.9,468.2 L497.2,482.9 L497.2,492.1 L489.9,490.3 L484.3,475.6 L456.8,475.6 L438.4,471.9Z" fill="#00bfff"/><path d="M528.5,494.0 L535.8,490.3 L543.2,494.9 L535.8,498.6Z" fill="#00bfff"/><path d="M655.3,457.2 L720.0,453.5 L720.0,501.3 L688.4,501.3 L677.4,482.9 L659.0,466.4Z" fill="#1e90ff"/></g><clipPath id="t10"><rect x="340" y="470" width="300" height="200"/></clipPath><g clip-path="url(#t10)"><rect x="340" y="470" width="300" height="200" fill="#d2f5ff"/><path d="M426.4,468.2 L641.5,468.2 L641.5,525.1 L615.7,523.3 L579.0,521.5 L551.4,517.8 L523.8,512.3 L487.1,510.4 L450.3,506.8 L430.1,493.9 L435.6,481.0Z" fill="#a0d2fa"/><path d="M437.4,468.2 L523.8,468.2 L505.4,484.7 L492.6,490.2 L490.7,484.7 L468.7,481.0 L450.3,477.4Z" fill="#00bfff"/><path d="M527.5,493.9 L534.9,491.1 L544.0,494.8 L534.9,498.5Z" fill="#00bfff"/><path d="M634.1,506.8 L641.5,503.1 L641.5,516.0 L634.1,514.1Z" fill="#00bfff"/><path d="M551.4,468.2 L569.8,468.2 L567.9,473.7 L555.1,473.7Z" fill="#00bfff"/><path d="M338.2,468.2 L380.4,468.2 L376.8,477.4 L367.6,486.5 L351.0,490.2 L338.2,488.4Z" fill="#ffffc8"/><path d="M338.2,506.8 L358.4,501.2 L371.2,504.9 L367.6,516.0 L354.7,523.3 L338.2,525.1Z" fill="#ffffc8"/><path d="M338.2,532.5 L376.8,528.8 L413.5,527.0 L439.3,534.3 L468.7,539.9 L492.6,536.2 L523.8,545.4 L542.2,550.9 L556.9,563.8 L569.8,580.3 L573.5,598.7 L560.6,606.0 L523.8,613.4 L511.0,609.7 L501.8,598.7 L483.4,600.5 L468.7,609.7 L463.2,617.1 L461.3,635.4 L457.6,672.2 L338.2,672.2Z" fill="#ffffc8"/><path d="M391.5,504.9 L408.0,503.1 L417.2,512.3 L446.6,525.1 L441.1,534.3 L413.5,527.0 L395.1,514.1Z" fill="#ffffc8"/><path d="M386.0,580.3 L395.1,572.9 L422.7,567.4 L450.3,576.6 L454.0,587.6 L441.1,598.7 L413.5,600.5 L398.8,602.4 L393.3,595.0Z" fill="#d2f5ff"/><path d="M351.0,591.3 L363.9,587.6 L371.2,598.7 L363.9,604.2 L354.7,598.7Z" fill="#d2f5ff"/><path d="M367.6,547.2 L384.1,543.5 L398.8,547.2 L391.5,556.4 L384.1,558.2 L373.1,554.6Z" fill="#ffe033"/><path d="M338.2,556.4 L358.4,558.2 L351.0,569.3 L338.2,572.9Z" fill="#ffe033"/><path d="M371.2,587.6 L382.3,584.0 L393.3,589.5 L384.1,596.8 L374.9,595.0Z" fill="#ffe033"/><path d="M377.7,589.9 L387.8,587.6 L384.1,593.2Z" fill="#ffa500"/><path d="M470.5,578.5 L477.9,576.6 L492.6,580.3 L485.2,584.0 L472.4,583.1Z" fill="#ffe033"/><path d="M514.6,569.3 L525.7,560.1 L536.7,569.3 L525.7,576.6Z" fill="#ffe033"/><path d="M338.2,607.9 L347.4,609.7 L354.7,618.9 L376.8,620.7 L395.1,626.2 L420.9,631.8 L428.2,644.6 L420.9,663.0 L409.9,672.2 L338.2,672.2Z" fill="#ffe033"/><path d="M352.9,642.8 L363.9,637.3 L376.8,642.8 L363.9,644.6Z" fill="#ffffc8"/><path d="M338.2,652.0 L358.4,652.0 L376.8,653.8 L387.8,653.8 L376.8,659.3 L367.6,664.9 L358.4,672.2 L338.2,672.2Z" fill="#ffa500"/><path d="M457.6,672.2 L468.7,646.5 L487.1,622.6 L505.4,618.9 L523.8,626.2 L542.2,618.9 L579.0,615.2 L606.5,611.5 L641.5,615.2 L641.5,672.2Z" fill="#a0d2fa"/><path d="M567.9,650.1 L582.6,635.4 L601.0,622.6 L641.5,615.2 L641.5,672.2 L579.0,672.2Z" fill="#00bfff"/><path d="M619.4,631.8 L634.1,629.9 L641.5,631.8 L641.5,639.1 L626.8,639.1Z" fill="#1e90ff"/><path d="M496.2,657.5 L512.8,655.7 L533.0,661.2 L523.8,672.2 L501.8,672.2Z" fill="#d2f5ff"/><path d="M602.9,538.0 L615.7,534.3 L628.6,538.0 L630.4,547.2 L615.7,550.9 L604.7,547.2Z" fill="#ffffc8"/><path d="M602.9,591.3 L615.7,587.6 L641.5,589.5 L641.5,602.4 L615.7,604.2 L604.7,598.7Z" fill="#ffffc8"/><path d="M569.8,545.4 L579.0,538.0 L584.5,549.0 L571.6,549.0Z" fill="#ffffc8"/><path d="M582.6,560.1 L597.4,556.4 L634.1,554.6 L641.5,552.7 L641.5,565.6 L630.4,576.6 L606.5,580.3 L588.2,578.5Z" fill="#a0d2fa"/><path d="M632.3,556.4 L641.5,550.9 L641.5,569.3 L634.1,563.8Z" fill="#00bfff"/></g><clipPath id="t11"><rect x="1280" y="350" width="180" height="110"/></clipPath><g clip-path="url(#t11)"><path d="M1287.0,360.0 L1348.0,378.0 L1394.0,397.0 L1450.0,415.0 L1470.0,420.0 L1470.0,460.0 L1450.0,449.0 L1394.0,437.0 L1348.0,421.0 L1318.0,400.0 L1296.0,378.0 L1280.0,370.0Z" fill="#ffe033"/></g><clipPath id="t12"><rect x="600" y="640" width="200" height="240"/></clipPath><g clip-path="url(#t12)"><rect x="600" y="640" width="200" height="240" fill="#a0d2fa"/><path d="M600.1,672.9 L620.6,669.0 L645.7,674.8 L655.4,690.3 L678.6,705.8 L694.1,711.6 L750.2,727.0 L754.0,759.9 L748.2,775.4 L732.8,794.7 L713.4,814.1 L690.2,833.4 L678.6,848.9 L674.7,881.8 L802.4,881.8 L802.4,638.1 L600.1,638.1Z" fill="#00bfff"/><path d="M600.1,663.2 L620.6,659.3 L645.7,661.3 L655.4,672.9 L643.8,674.8 L620.6,669.0 L600.1,670.9Z" fill="#a0d2fa"/><path d="M667.0,638.1 L732.8,638.1 L725.0,659.3 L713.4,667.1 L684.4,663.2 L670.9,655.5Z" fill="#1e90ff"/><path d="M690.2,643.9 L709.6,641.9 L711.5,653.5 L703.8,657.4 L692.1,655.5Z" fill="#4169e1"/><path d="M721.2,672.9 L728.9,669.0 L732.8,676.8 L727.0,680.6Z" fill="#1e90ff"/><path d="M742.4,672.9 L757.9,663.2 L769.5,672.9 L769.5,688.4 L759.8,701.9 L746.3,696.1Z" fill="#a0d2fa"/><path d="M748.2,674.8 L761.8,672.9 L763.7,686.4 L752.1,690.3Z" fill="#d2f5ff"/><path d="M694.1,881.8 L713.4,852.8 L732.8,833.4 L752.1,814.1 L761.8,794.7 L771.5,779.3 L790.8,765.7 L802.4,759.9 L802.4,881.8Z" fill="#1e90ff"/><path d="M732.8,881.8 L742.4,848.9 L761.8,833.4 L781.1,825.7 L802.4,823.8 L802.4,881.8Z" fill="#4169e1"/><path d="M767.6,756.1 L781.1,732.8 L783.1,740.6 L771.5,771.5 L783.1,779.3 L781.1,785.1 L767.6,779.3Z" fill="#a0d2fa"/><path d="M725.0,742.5 L730.8,750.3 L727.0,759.9 L723.1,750.3Z" fill="#00bfff"/><path d="M600.1,684.5 L645.7,684.5 L653.5,694.2 L661.2,707.7 L674.7,723.2 L672.8,756.1 L668.9,775.4 L680.5,794.7 L600.1,814.1Z" fill="#d2f5ff"/><path d="M688.3,759.9 L701.8,754.1 L719.2,758.0 L725.0,771.5 L721.2,785.1 L705.7,790.9 L690.2,775.4Z" fill="#d2f5ff"/><path d="M694.1,790.9 L701.8,787.0 L715.4,800.5 L713.4,814.1 L705.7,825.7 L696.0,814.1Z" fill="#d2f5ff"/><path d="M601.2,725.1 L616.7,717.4 L643.8,721.2 L645.7,730.9 L636.1,742.5 L612.8,740.6Z" fill="#ffffc8"/><path d="M605.1,696.1 L620.6,696.1 L636.1,705.8 L628.3,715.4 L609.0,715.4Z" fill="#ffffc8"/><path d="M628.3,771.5 L643.8,763.8 L653.5,756.1 L657.3,771.5 L655.4,790.9 L643.8,785.1Z" fill="#ffffc8"/></g><clipPath id="t13"><rect x="600" y="470" width="190" height="170"/></clipPath><g clip-path="url(#t13)"><rect x="600" y="470" width="190" height="170" fill="#00bfff"/><path d="M666.7,458.5 L684.1,480.3 L687.0,496.3 L687.0,520.9 L694.3,529.6 L716.0,535.4 L737.8,541.2 L752.3,544.1 L766.8,549.9 L774.0,561.5 L788.5,576.0 L801.6,584.7 L801.6,458.5Z" fill="#1e90ff"/><path d="M598.5,458.5 L634.8,461.5 L637.7,471.6 L652.2,481.8 L650.8,493.4 L636.3,506.4 L634.8,516.6 L655.1,520.9 L675.4,528.2 L692.8,541.2 L710.2,549.9 L720.4,558.6 L701.5,561.5 L687.0,552.8 L672.5,554.3 L643.5,557.2 L633.4,560.1 L643.5,571.7 L652.2,576.0 L598.5,576.0Z" fill="#a0d2fa"/><path d="M598.5,522.4 L643.5,525.3 L649.3,538.3 L647.9,547.0 L633.4,552.8 L614.5,555.7 L598.5,554.3Z" fill="#d2f5ff"/><path d="M601.5,534.0 L623.2,534.0 L630.5,545.6 L623.2,549.9 L605.8,548.5Z" fill="#ffffc8"/><path d="M658.0,535.4 L668.2,532.5 L678.3,536.9 L672.5,542.7 L660.9,539.8Z" fill="#d2f5ff"/><path d="M598.5,574.6 L650.8,574.6 L687.0,576.0 L730.5,574.6 L745.0,564.4 L756.6,565.9 L763.9,576.0 L759.5,590.5 L745.0,610.8 L742.1,623.9 L707.3,622.4 L698.6,605.0 L672.5,597.8 L660.9,610.8 L643.5,616.6 L614.5,616.6 L598.5,613.7Z" fill="#a0d2fa"/><path d="M598.5,581.8 L636.3,583.3 L658.0,593.4 L660.9,603.6 L650.8,610.8 L621.8,612.3 L598.5,609.4Z" fill="#d2f5ff"/><path d="M602.9,589.1 L634.8,587.6 L647.9,599.2 L637.7,603.6 L605.8,602.1Z" fill="#ffffc8"/><path d="M695.7,587.6 L707.3,578.9 L749.4,578.9 L750.8,590.5 L739.2,605.0 L710.2,605.0Z" fill="#d2f5ff"/><path d="M713.1,590.5 L739.2,587.6 L743.6,590.5 L737.8,596.3 L716.0,592.0Z" fill="#ffffc8"/><path d="M620.3,632.6 L643.5,623.9 L665.3,616.6 L684.1,609.4 L694.3,619.5 L704.4,641.3 L614.5,641.3Z" fill="#1e90ff"/><path d="M771.1,610.8 L781.3,605.0 L801.6,597.8 L801.6,641.3 L771.1,641.3Z" fill="#1e90ff"/></g><clipPath id="t14"><rect x="1290" y="260" width="270" height="180"/></clipPath><g clip-path="url(#t14)"><rect x="1290" y="260" width="270" height="180" fill="#ffffc8"/><path d="M1278.3,258.3 L1355.5,258.3 L1360.6,277.2 L1353.8,285.7 L1336.6,282.3 L1314.3,284.0 L1300.6,273.7 L1290.3,277.2 L1283.4,294.3 L1283.4,308.0 L1293.7,314.9 L1307.4,318.3 L1324.6,323.5 L1336.6,332.1 L1341.8,345.8 L1345.2,356.1 L1346.9,369.8 L1360.6,380.1 L1369.2,397.2 L1357.2,402.4 L1336.6,407.5 L1348.6,414.4 L1382.9,417.8 L1425.8,419.5 L1451.6,417.8 L1451.6,441.8 L1278.3,441.8Z" fill="#ffe033"/><path d="M1278.3,258.3 L1352.1,258.3 L1345.2,270.3 L1334.9,277.2 L1322.9,270.3 L1297.2,266.9 L1286.9,273.7 L1278.3,280.6Z" fill="#ffa500"/><path d="M1278.3,321.8 L1300.6,325.2 L1322.9,333.8 L1333.2,356.1 L1333.2,366.4 L1312.6,373.2 L1295.4,378.4 L1305.7,388.7 L1321.2,397.2 L1336.6,397.2 L1348.6,402.4 L1322.9,404.1 L1321.2,414.4 L1324.6,424.7 L1336.6,431.6 L1352.1,441.8 L1278.3,441.8Z" fill="#ffa500"/><path d="M1278.3,332.1 L1293.7,344.1 L1278.3,366.4Z" fill="#ff6a00"/><path d="M1292.0,289.2 L1314.3,289.2 L1340.0,294.3 L1365.8,292.6 L1376.1,296.0 L1364.1,304.6 L1353.8,316.6 L1350.3,333.8 L1353.8,352.6 L1365.8,366.4 L1379.5,380.1 L1389.8,393.8 L1400.1,400.7 L1422.4,407.5 L1419.0,393.8 L1407.0,378.4 L1389.8,364.6 L1376.1,356.1 L1362.3,345.8 L1340.0,340.6 L1331.5,332.1 L1322.9,326.9 L1297.2,314.9 L1290.3,301.2Z" fill="#d2f5ff"/><path d="M1326.3,311.5 L1338.3,302.9 L1352.1,308.0 L1353.8,314.9 L1345.2,323.5 L1333.2,321.8Z" fill="#a0d2fa"/><path d="M1360.6,323.5 L1369.2,306.3 L1389.8,297.7 L1403.5,309.8 L1407.0,345.8 L1394.9,359.5 L1382.9,352.6 L1369.2,338.9Z" fill="#ffe033"/><path d="M1367.5,325.2 L1376.1,311.5 L1391.5,311.5 L1393.2,335.5 L1391.5,349.2 L1376.1,335.5Z" fill="#ffa500"/><path d="M1420.7,332.1 L1434.4,330.3 L1444.7,335.5 L1451.6,349.2 L1461.8,362.9 L1460.1,376.7 L1441.3,380.1 L1427.5,376.7 L1413.8,366.4 L1410.4,356.1 L1420.7,345.8Z" fill="#d2f5ff"/><path d="M1458.4,362.9 L1477.3,369.8 L1499.6,378.4 L1503.0,387.0 L1492.7,395.5 L1468.7,392.1 L1458.4,378.4Z" fill="#d2f5ff"/><path d="M1441.3,333.8 L1451.6,337.2 L1482.4,349.2 L1509.9,366.4 L1506.5,383.5 L1485.9,376.7 L1468.7,366.4 L1448.1,352.6 L1439.5,340.6Z" fill="#a0d2fa"/><path d="M1449.8,338.9 L1485.9,332.1 L1533.9,320.0 L1520.2,349.2 L1513.3,376.7 L1485.9,366.4 L1465.3,356.1Z" fill="#00bfff"/><path d="M1482.4,340.6 L1533.9,320.0 L1533.9,338.9 L1520.2,349.2 L1509.9,366.4 L1497.9,356.1Z" fill="#1e90ff"/><path d="M1511.6,325.2 L1535.6,318.3 L1535.6,337.2 L1527.0,335.5Z" fill="#4169e1"/><path d="M1427.5,313.2 L1434.4,311.5 L1439.5,323.5 L1431.0,325.2Z" fill="#ffe033"/><path d="M1410.4,332.1 L1415.5,330.3 L1418.1,334.6 L1413.0,336.3Z" fill="#d2f5ff"/><path d="M1441.3,383.5 L1446.4,380.1 L1451.6,387.0 L1444.7,392.1Z" fill="#d2f5ff"/></g></g><path d="M213.1,652.4 L235.1,643.2 L246.2,630.4 L290.3,628.5 L308.7,624.9 L338.1,624.9 L378.5,615.7 L400.6,606.5 L437.4,604.6 L463.1,612.0 L496.2,612.0 L496.2,599.1 L492.5,591.8 L499.9,584.4 L496.2,577.1 L485.1,569.7 L477.8,558.7 L503.5,547.6 L529.3,540.3 L540.3,507.2 L569.7,492.5 L613.8,474.1 L617.5,459.4 L643.2,455.7" fill="none" stroke="#b4b4b4" stroke-width="2.2" stroke-linejoin="round"/><path d="M463.1,612.0 L459.4,628.5 L466.8,650.6 L463.1,661.6 L474.1,680.0 L510.9,691.0 L547.6,694.7 L584.4,698.4 L602.8,713.1 L621.2,716.8" fill="none" stroke="#b4b4b4" stroke-width="2.2" stroke-linejoin="round"/><path d="M529.3,540.3 L547.6,544.0 L584.4,558.7 L621.2,562.4 L635.9,547.6 L643.2,545.8" fill="none" stroke="#b4b4b4" stroke-width="2.2" stroke-linejoin="round"/><path d="M676.3,727.8 L683.7,742.5 L676.3,782.9" fill="none" stroke="#b4b4b4" stroke-width="2.2" stroke-linejoin="round"/><path d="M642.2,456.5 L656.5,480.8 L653.2,486.3 L668.7,499.6 L670.9,506.2 L684.1,504.0 L690.7,499.6 L710.6,498.5 L715.0,506.2 L710.6,515.0 L697.4,522.7 L708.4,526.0 L728.2,534.9 L730.4,543.7 L739.3,550.3 L750.3,552.5 L759.1,545.9 L754.7,541.5 L768.0,538.2 L781.2,541.5 L792.2,537.1 L805.5,534.9 L809.9,543.7 L801.0,554.7 L790.0,561.3 L790.0,572.4 L801.0,579.0 L816.5,582.3 L834.1,576.8 L847.4,570.2 L849.6,550.3 L856.2,541.5 L869.4,536.0 L873.8,543.7 L865.0,559.1 L882.7,568.0 L893.7,574.6 L915.8,574.6 L922.4,561.3 L937.8,545.9 L948.8,537.1 L959.9,534.9 L970.9,532.7 L981.9,530.4 L993.0,523.8 L1000.0,515.0" fill="none" stroke="#b4b4b4" stroke-width="2.2" stroke-linejoin="round"/><path d="M640.0,539.3 L662.1,545.9 L679.7,543.7 L710.6,559.1 L732.7,568.0 L754.7,574.6 L768.0,587.8 L772.4,598.8 L779.0,607.7 L779.0,620.9" fill="none" stroke="#b4b4b4" stroke-width="2.2" stroke-linejoin="round"/><path d="M816.5,582.3 L834.1,594.4 L836.3,616.5 L847.4,627.5 L860.6,631.9 L873.8,623.1 L873.8,614.3 L865.0,609.9 L860.6,601.0 L867.2,590.0 L882.7,590.0 L882.7,576.8" fill="none" stroke="#b4b4b4" stroke-width="2.2" stroke-linejoin="round"/><path d="M882.7,590.0 L904.7,601.0 L915.8,607.7 L913.5,629.7 L893.7,634.1 L891.5,638.5 L867.2,638.5 L860.6,651.8 L867.2,654.0 L862.8,669.4 L847.4,678.3 L849.6,687.1 L834.1,691.5" fill="none" stroke="#b4b4b4" stroke-width="2.2" stroke-linejoin="round"/><path d="M957.7,563.5 L964.3,576.8 L957.7,594.4 L959.9,620.9 L953.3,647.4 L957.7,660.6 L970.9,678.3 L975.3,693.7" fill="none" stroke="#b4b4b4" stroke-width="2.2" stroke-linejoin="round"/><path d="M620.0,712.7 L634.7,710.3 L644.5,698.0 L654.3,680.9 L647.0,666.2 L656.8,658.8 L666.6,661.3 L678.8,676.0 L693.5,688.2 L705.8,685.8 L713.1,695.6 L725.4,695.6 L735.2,693.1 L740.1,680.9 L749.9,680.9 L752.4,673.5 L742.5,668.6 L730.3,661.3 L730.3,655.1 L740.1,653.9 L754.8,658.8 L772.0,658.8 L779.3,658.8 L791.6,671.1 L808.7,676.0 L813.6,690.7 L828.3,693.1 L840.6,690.7 L850.4,690.7 L877.4,698.0 L901.9,705.4 L909.2,707.8 L911.7,715.2 L901.9,729.9 L889.6,742.2 L877.4,752.0 L865.1,756.9 L855.3,749.5 L845.5,747.1 L835.7,766.7 L845.5,776.5 L850.4,781.4 L862.6,788.7" fill="none" stroke="#b4b4b4" stroke-width="2.2" stroke-linejoin="round"/><path d="M968.0,673.5 L936.2,680.9 L948.4,690.7 L938.6,698.0 L936.2,715.2 L948.4,722.5 L948.4,737.3 L931.3,742.2 L911.7,747.1 L909.2,761.8 L923.9,771.6 L928.8,786.3 L931.3,810.8 L921.5,825.5 L933.7,830.4 L931.3,852.5" fill="none" stroke="#b4b4b4" stroke-width="2.2" stroke-linejoin="round"/><path d="M968.0,673.5 L980.3,688.2 L999.9,700.5 L1020.0,700.5" fill="none" stroke="#b4b4b4" stroke-width="2.2" stroke-linejoin="round"/><path d="M928.8,771.6 L933.7,761.8 L958.2,756.9 L975.4,756.9 L992.5,761.8 L1002.4,766.7 L1020.0,766.7" fill="none" stroke="#b4b4b4" stroke-width="2.2" stroke-linejoin="round"/><path d="M862.6,788.7 L865.1,786.3 L877.4,778.9 L892.1,776.5 L906.8,781.4 L914.1,796.1 L926.4,801.0" fill="none" stroke="#b4b4b4" stroke-width="2.2" stroke-linejoin="round"/><path d="M862.6,788.7 L855.3,791.2 L845.5,796.1 L847.9,803.4 L857.7,805.9 L855.3,810.8 L835.7,813.2 L830.8,803.4 L816.1,805.9 L808.7,791.2 L808.7,796.1 L816.1,808.3 L830.8,815.7 L828.3,820.6" fill="none" stroke="#b4b4b4" stroke-width="2.2" stroke-linejoin="round"/><path d="M791.6,803.4 L779.3,820.6 L776.9,832.8 L781.8,842.6 L774.4,847.5 L759.7,850.0 L752.4,852.5 L742.5,835.3 L727.8,813.2 L718.0,805.9 L713.1,796.1 L700.9,786.3 L696.0,791.2 L693.5,803.4" fill="none" stroke="#b4b4b4" stroke-width="2.2" stroke-linejoin="round"/><path d="M686.2,776.5 L683.7,786.3 L678.8,793.6 L666.6,798.5" fill="none" stroke="#b4b4b4" stroke-width="2.2" stroke-linejoin="round"/><path d="M1031.6,560.0 L1043.2,577.4 L1037.4,590.9 L1029.6,600.6 L1035.4,607.4 L1033.5,621.9 L1025.8,627.7 L1010.3,633.5 L994.8,635.4 L994.8,639.3" fill="none" stroke="#b4b4b4" stroke-width="2.2" stroke-linejoin="round"/><path d="M1130.2,561.9 L1122.5,569.7 L1107.0,573.5 L1095.4,581.3 L1087.7,585.1 L1076.1,598.7 L1072.2,604.5 L1076.1,612.2 L1074.1,619.0" fill="none" stroke="#b4b4b4" stroke-width="2.2" stroke-linejoin="round"/><path d="M1035.4,607.4 L1052.8,610.3 L1066.4,613.2 L1076.1,612.2" fill="none" stroke="#b4b4b4" stroke-width="2.2" stroke-linejoin="round"/><path d="M1060.6,639.3 L1074.1,645.1 L1079.9,649.0 L1095.4,649.0 L1099.3,643.2 L1110.9,643.2 L1114.7,649.0 L1118.6,652.8 L1130.2,650.9 L1139.9,652.8 L1145.7,649.0 L1153.4,643.2 L1165.0,637.4" fill="none" stroke="#b4b4b4" stroke-width="2.2" stroke-linejoin="round"/><path d="M1095.4,649.0 L1097.3,654.8 L1103.1,660.6 L1099.3,668.3 L1087.7,668.3 L1079.9,660.6 L1076.1,672.2 L1064.4,683.8 L1068.3,693.5 L1083.8,699.3 L1085.7,714.7 L1076.1,720.5 L1074.1,726.3 L1085.7,734.1 L1087.7,741.8 L1083.8,749.6 L1091.5,763.1" fill="none" stroke="#b4b4b4" stroke-width="2.2" stroke-linejoin="round"/><path d="M1095.4,649.0 L1110.9,656.7 L1124.4,660.6 L1136.0,670.3 L1136.0,679.9 L1141.8,687.7 L1149.6,693.5 L1159.2,689.6 L1165.0,695.4 L1161.2,699.3 L1151.5,697.3 L1151.5,707.0 L1145.7,712.8 L1153.4,720.5 L1155.4,726.3 L1172.8,730.2 L1174.7,737.9 L1167.0,745.7 L1159.2,749.6 L1155.4,761.2" fill="none" stroke="#b4b4b4" stroke-width="2.2" stroke-linejoin="round"/><path d="M1172.8,730.2 L1182.4,730.2 L1192.1,736.0 L1197.9,737.9 L1205.6,734.1 L1207.6,724.4 L1215.3,714.7" fill="none" stroke="#b4b4b4" stroke-width="2.2" stroke-linejoin="round"/><path d="M960.0,658.6 L969.7,676.1 L960.0,681.9" fill="none" stroke="#b4b4b4" stroke-width="2.2" stroke-linejoin="round"/><path d="M969.7,676.1 L979.3,689.6 L998.7,699.3 L1018.0,701.2 L1033.5,703.1 L1037.4,712.8 L1054.8,718.6 L1068.3,722.5 L1074.1,726.3" fill="none" stroke="#b4b4b4" stroke-width="2.2" stroke-linejoin="round"/><path d="M1041.2,780.5 L1056.7,772.8 L1076.1,763.1 L1078.0,759.2" fill="none" stroke="#b4b4b4" stroke-width="2.2" stroke-linejoin="round"/><path d="M1107.0,757.3 L1105.1,765.0 L1114.7,763.1 L1118.6,761.2 L1130.2,767.0 L1139.9,770.8" fill="none" stroke="#b4b4b4" stroke-width="2.2" stroke-linejoin="round"/><path d="M780.9,816.4 L788.2,811.5 L793.1,804.1 L800.5,791.9 L807.8,791.9 L810.3,801.7 L817.6,809.0 L825.0,804.1 L834.8,806.6 L832.4,813.9 L805.4,818.8 L795.6,823.7 L798.0,833.5 L812.7,840.9 L817.6,853.1 L812.7,862.9 L820.1,875.2 L815.2,885.0 L829.9,892.4 L837.3,899.7 L852.0,899.7 L854.4,909.5 L844.6,916.9" fill="none" stroke="#b4b4b4" stroke-width="2.2" stroke-linejoin="round"/><path d="M815.2,885.0 L827.5,880.1 L847.1,882.5 L866.7,875.2 L878.9,865.4 L896.1,872.7 L908.3,865.4 L918.1,862.9 L925.5,858.0 L935.3,853.1" fill="none" stroke="#b4b4b4" stroke-width="2.2" stroke-linejoin="round"/><path d="M1040.7,774.7 L1060.3,769.8 L1075.0,760.0" fill="none" stroke="#b4b4b4" stroke-width="2.2" stroke-linejoin="round"/><path d="M909.8,760.0 L929.4,769.8 L929.4,779.6 L929.4,799.2 L931.9,813.9 L919.6,826.2 L931.9,833.5 L931.9,853.1 L924.5,858.0 L909.8,865.4 L900.0,870.3" fill="none" stroke="#b4b4b4" stroke-width="2.2" stroke-linejoin="round"/><path d="M931.9,850.7 L941.7,853.1 L958.8,845.8 L973.5,845.8 L978.4,853.1 L973.5,862.9 L971.1,875.2 L980.9,882.5 L993.1,882.5 L998.0,872.7 L1017.6,867.8 L1025.0,865.4 L1042.2,867.8 L1056.9,870.3 L1056.9,877.6 L1047.1,885.0 L1054.4,887.5 L1083.8,885.0 L1086.3,877.6 L1103.4,882.5 L1113.2,897.3 L1118.1,912.0" fill="none" stroke="#b4b4b4" stroke-width="2.2" stroke-linejoin="round"/><path d="M993.1,882.5 L993.1,897.3 L980.9,916.9 L978.4,931.6 L963.7,941.4 L951.5,951.2 L939.2,958.5" fill="none" stroke="#b4b4b4" stroke-width="2.2" stroke-linejoin="round"/><path d="M1032.4,760.0 L1034.8,774.7 L1042.2,782.1 L1047.1,796.8 L1037.3,809.0 L1032.4,821.3 L1039.7,840.9 L1042.2,853.1 L1042.2,867.8" fill="none" stroke="#b4b4b4" stroke-width="2.2" stroke-linejoin="round"/><path d="M1037.3,777.2 L1049.5,772.3 L1071.6,767.4 L1076.5,760.0" fill="none" stroke="#b4b4b4" stroke-width="2.2" stroke-linejoin="round"/><path d="M1154.9,760.0 L1142.6,769.8 L1137.7,777.2 L1145.1,789.4 L1147.5,799.2 L1132.8,806.6 L1118.1,809.0 L1113.2,818.8 L1108.3,828.6 L1098.5,838.4 L1093.6,850.7 L1088.7,862.9 L1086.3,877.6" fill="none" stroke="#b4b4b4" stroke-width="2.2" stroke-linejoin="round"/><path d="M1147.5,799.2 L1154.9,809.0 L1159.8,816.4 L1174.5,818.8 L1189.2,823.7 L1199.0,826.2 L1211.3,828.6" fill="none" stroke="#b4b4b4" stroke-width="2.2" stroke-linejoin="round"/><path d="M1076.5,760.0 L1105.9,764.9 L1120.6,760.0" fill="none" stroke="#b4b4b4" stroke-width="2.2" stroke-linejoin="round"/><path d="M1221.6,203.0 L1224.6,210.6 L1215.4,219.8 L1227.7,226.0 L1233.8,229.0 L1249.1,232.1 L1252.2,250.5 L1264.5,253.5 L1289.0,250.5 L1307.4,247.4 L1319.6,253.5 L1325.7,259.7 L1319.6,268.8 L1310.4,284.2 L1307.4,296.4 L1301.2,308.7 L1292.0,317.9 L1282.8,320.9 L1264.5,333.2 L1249.1,342.4 L1243.0,351.6 L1264.5,357.7 L1267.5,360.8 L1258.3,363.8 L1255.3,370.0 L1276.7,373.0 L1282.8,388.3 L1295.1,391.4 L1325.7,397.5 L1347.2,403.7 L1350.2,412.8 L1362.5,415.9 L1374.8,419.0 L1387.0,425.1 L1396.2,431.2 L1417.6,428.2 L1433.0,431.2 L1448.3,437.4" fill="none" stroke="#b4b4b4" stroke-width="2.2" stroke-linejoin="round"/><path d="M1258.3,363.8 L1233.8,379.1 L1227.7,382.2 L1233.8,394.5 L1233.8,412.8 L1252.2,415.9 L1264.5,425.1 L1270.6,440.4 L1285.9,446.5 L1295.1,455.7 L1304.3,471.1 L1310.4,479.9" fill="none" stroke="#b4b4b4" stroke-width="2.2" stroke-linejoin="round"/><path d="M1272.1,438.6 L1261.0,446.0 L1239.0,455.1 L1216.9,464.3 L1193.0,477.2 L1185.7,479.0 L1172.8,466.2 L1167.3,468.0 L1167.3,486.4 L1158.1,488.2 L1143.4,484.6 L1139.7,473.5 L1132.4,460.7 L1125.0,458.8 L1114.0,462.5 L1108.5,469.9 L1095.6,473.5 L1084.6,477.2 L1073.5,480.9 L1064.3,482.7 L1060.7,475.4 L1053.3,469.9 L1044.1,475.4 L1040.4,482.7 L1038.6,493.8 L1044.1,504.8 L1042.3,508.5 L1033.1,508.5 L1018.4,510.3 L1000.0,514.0" fill="none" stroke="#b4b4b4" stroke-width="2.2" stroke-linejoin="round"/><path d="M1044.1,504.8 L1051.5,514.0 L1042.3,519.5 L1053.3,528.7 L1049.6,539.7 L1038.6,541.5 L1033.1,554.4 L1040.4,574.6 L1031.2,600.0" fill="none" stroke="#b4b4b4" stroke-width="2.2" stroke-linejoin="round"/><path d="M1158.1,488.2 L1156.2,501.1 L1169.1,506.6 L1178.3,517.6 L1180.1,521.3" fill="none" stroke="#b4b4b4" stroke-width="2.2" stroke-linejoin="round"/><path d="M1084.6,506.6 L1102.9,497.4 L1121.3,504.8 L1117.6,514.0 L1130.5,521.3 L1128.7,532.4 L1119.5,532.4 L1106.6,543.4 L1114.0,554.4 L1125.0,554.4 L1128.7,545.2 L1136.0,539.7" fill="none" stroke="#b4b4b4" stroke-width="2.2" stroke-linejoin="round"/><path d="M1075.4,521.3 L1077.2,528.7 L1091.9,532.4 L1102.9,528.7 L1110.3,525.0" fill="none" stroke="#b4b4b4" stroke-width="2.2" stroke-linejoin="round"/><path d="M1128.7,561.8 L1110.3,574.6 L1091.9,583.8 L1077.2,600.0" fill="none" stroke="#b4b4b4" stroke-width="2.2" stroke-linejoin="round"/><path d="M943.4,992.7 L953.2,991.4 L963,986.5" fill="none" stroke="#b4b4b4" stroke-width="2.2" stroke-linejoin="round"/><path d="M712.8,627.5 L717.2,616.5 L728.2,614.3 L743.7,612.1 L763.5,614.3 L781.2,618.7 L794.4,614.3 L812.1,607.7 L820.9,598.8 L812.1,590.0 L816.5,583.4 L838.5,576.8 L851.8,568.0 L862.8,556.9 L869.4,545.9 L869.4,523.8 L878.3,510.6 L893.7,501.8 L904.7,499.6 L926.8,506.2 L948.8,508.4 L970.9,515.0 L979.7,521.6 L977.5,532.7 L966.5,550.3 L957.7,563.5" fill="none" stroke="#87ceeb" stroke-width="2" stroke-linejoin="round"/><path d="M960.0,648.0 L979.3,643.2 L990.9,638.3 L1008.4,643.2 L1037.4,641.2 L1060.6,639.3 L1070.3,629.6 L1085.7,618.0 L1103.1,604.5 L1120.5,592.9 L1137.9,583.2 L1153.4,575.5 L1163.1,573.5" fill="none" stroke="#87ceeb" stroke-width="2" stroke-linejoin="round"/><path d="M1029.6,759.2 L1047.0,743.8 L1056.7,743.8 L1068.3,749.6 L1078.0,761.2 L1091.5,763.1 L1105.1,759.2 L1114.7,745.7 L1130.2,737.9 L1143.8,728.3 L1149.6,712.8 L1153.4,707.0 L1178.6,705.1 L1186.3,710.9 L1201.8,712.8 L1215.3,714.7" fill="none" stroke="#87ceeb" stroke-width="2" stroke-linejoin="round"/><path d="M960.0,734.1 L975.5,739.9 L985.1,749.6 L998.7,751.5 L1004.5,763.1 L1018.0,765.0" fill="none" stroke="#87ceeb" stroke-width="2" stroke-linejoin="round"/><path d="M718.0,832.8 L722.9,847.5 L752.4,847.5 L776.9,832.8 L791.6,813.2 L801.4,793.6 L816.1,786.3 L840.6,781.4 L865.1,771.6 L889.6,759.3 L909.2,742.2 L948.4,733.6 L975.4,737.3 L987.6,747.1 L1002.4,759.3 L1020.0,766.7" fill="none" stroke="#87ceeb" stroke-width="2" stroke-linejoin="round"/><path d="M678.8,727.5 L686.2,747.1 L688.6,771.6 L691.1,796.1 L698.4,815.7 L708.2,830.4" fill="none" stroke="#87ceeb" stroke-width="2" stroke-linejoin="round"/><path d="M634.7,639.2 L656.8,641.7 L669.0,649.0 L683.7,663.7 L693.5,668.6 L713.1,668.6 L730.3,663.7 L747.5,663.7 L767.1,666.2" fill="none" stroke="#87ceeb" stroke-width="2" stroke-linejoin="round"/><path d="M1132.7,296.4 L1157.2,302.5 L1181.7,299.5 L1215.4,294.9" fill="none" stroke="#87ceeb" stroke-width="2" stroke-linejoin="round"/><path d="M914.2,1010.9 L919.5,1007.4 L927.5,1002 L928.4,998.5 L937.2,995.9 L948.8,995 L961.2,994.1 L962.9,991.4 L970,997.6 L970.9,1003 L967.4,1005.6 L960.3,1018 L958.5,1025.1 L953.2,1029.5 L942.6,1034 L937.2,1038.4 L926.6,1036.6 L917.7,1032.2 L915.1,1028.7 L914.2,1019.8Z" fill="#1e90ff"/><path d="M918.6,1014.5 L926.6,1005.6 L939.9,998.5 L961.2,995.9 L963.8,1002 L956.7,1015.4 L953.2,1024.2 L944.3,1030.4 L935.5,1033.1 L922.2,1028.7 L918.6,1022.4Z" fill="#4169e1"/><path d="M914.2,1010.9 L919.5,1007.4 L927.5,1002 L928.4,998.5 L937.2,995.9 L948.8,995 L961.2,994.1 L962.9,991.4 L970,997.6 L970.9,1003 L967.4,1005.6 L960.3,1018 L958.5,1025.1 L953.2,1029.5 L942.6,1034 L937.2,1038.4 L926.6,1036.6 L917.7,1032.2 L915.1,1028.7 L914.2,1019.8Z" fill="none" stroke="#000080" stroke-width="1.5"/><path d="M1220,869.3 L1226.7,872.2 L1231.6,876.1 L1228.7,881.9 L1229.1,886.8 L1226.7,891.6 L1222.9,900.3 L1220.9,910 L1218,919.6 L1213.2,927.4 L1207.4,934.1 L1205,942.8 L1204,949.6 L1200.6,948.6 L1198.7,940.9 L1191.9,937 L1188,929.3 L1185.1,920.6 L1186.1,911.9 L1188,905.1 L1194.8,893.5 L1202.6,883.8 L1209.3,875.1 L1215.1,873.2Z" fill="#00bfff"/><clipPath id="twc"><path d="M1220,869.3 L1226.7,872.2 L1231.6,876.1 L1228.7,881.9 L1229.1,886.8 L1226.7,891.6 L1222.9,900.3 L1220.9,910 L1218,919.6 L1213.2,927.4 L1207.4,934.1 L1205,942.8 L1204,949.6 L1200.6,948.6 L1198.7,940.9 L1191.9,937 L1188,929.3 L1185.1,920.6 L1186.1,911.9 L1188,905.1 L1194.8,893.5 L1202.6,883.8 L1209.3,875.1 L1215.1,873.2Z"/></clipPath><path d="M1218,878 L1221,879 L1221.9,888.7 L1220,898.4 L1214.2,911.9 L1208.4,925.4 L1200.6,932.2 L1195.8,927.4 L1193.8,917.7 L1191.9,908 L1198.7,898.4 L1205.5,886.8 L1210.3,880.9Z" fill="#1e90ff" clip-path="url(#twc)"/><path d="M1200.6,940 L1204.5,940 L1204.5,949 L1200.6,949Z" fill="#a0d2fa" clip-path="url(#twc)"/><path d="M1220,869.3 L1226.7,872.2 L1231.6,876.1 L1228.7,881.9 L1229.1,886.8 L1226.7,891.6 L1222.9,900.3 L1220.9,910 L1218,919.6 L1213.2,927.4 L1207.4,934.1 L1205,942.8 L1204,949.6 L1200.6,948.6 L1198.7,940.9 L1191.9,937 L1188,929.3 L1185.1,920.6 L1186.1,911.9 L1188,905.1 L1194.8,893.5 L1202.6,883.8 L1209.3,875.1 L1215.1,873.2Z" fill="none" stroke="#000080" stroke-width="1.5"/><circle cx="925.2" cy="970.6" r="2.2" fill="#000080"/><circle cx="1088.2" cy="970.6" r="2" fill="#000080"/><circle cx="1108.3" cy="979.2" r="2.2" fill="#000080"/><circle cx="1017.6" cy="1006.9" r="1.5" fill="#000080"/><circle cx="1038.0" cy="1014.8" r="1.5" fill="#000080"/><circle cx="1105.9" cy="1082.2" r="1.5" fill="#000080"/><circle cx="1130.4" cy="1109.9" r="1.5" fill="#000080"/><circle cx="1221.1" cy="947.4" r="1.5" fill="#000080"/><circle cx="982.1" cy="1063.8" r="1.2" fill="#000080"/><circle cx="984.6" cy="1079.7" r="1.2" fill="#000080"/><circle cx="986.3" cy="1085.8" r="1.2" fill="#000080"/><circle cx="1000.0" cy="1067.5" r="1.2" fill="#000080"/><circle cx="1000.5" cy="1071.1" r="1.2" fill="#000080"/><circle cx="1006.6" cy="1077.3" r="1.2" fill="#000080"/><circle cx="1007.8" cy="1082.2" r="1.2" fill="#000080"/><circle cx="1014.7" cy="1071.1" r="1.2" fill="#000080"/><circle cx="1000.0" cy="1096.9" r="1.2" fill="#000080"/><circle cx="1006.6" cy="1089.5" r="1.2" fill="#000080"/><circle cx="974.8" cy="1094.9" r="1.2" fill="#000080"/><circle cx="994.4" cy="1081.7" r="1.2" fill="#000080"/><path d="M1036.0,1096.9 L1039.7,1090.7 L1049.5,1087.1 L1060.5,1086.6 L1061.8,1093.2 L1054.4,1099.3 L1044.6,1103.0 L1037.3,1101.8Z" fill="none" stroke="#000080" stroke-width="1.3" stroke-dasharray="2 2"/><path d="M116.0,579.9 L111.4,561.9 L103.7,552.7 L88.4,549.6 L83.8,540.4 L82.3,532.8 L88.4,522.0 L91.4,517.4 L111.4,508.2 L128.2,506.7 L132.8,512.8 L151.2,509.8 L158.8,497.5 L171.1,496.0 L183.4,494.5 L192.5,488.3 L207.9,482.2 L223.2,476.1 L237.0,471.5 L240.0,460.8 L241.6,451.6 L250.8,447.0 L252.3,436.2 L246.2,420.9 L243.1,408.7 L232.4,404.1 L241.6,399.5 L260.0,396.4 L275.3,393.4 L284.5,396.4 L295.2,396.4 L289.1,388.8 L296.7,371.9 L307.4,350.5 L327.4,353.5 L351.9,356.6 L367.2,350.5 L365.6,329.0 L376.4,319.8 L390.2,318.3 L402.4,304.5 L419.3,304.5 L425.4,316.8 L440.7,326.0 L459.1,330.6 L477.5,338.2 L492.8,356.6 L495.9,371.9 L488.2,384.2 L491.3,396.4 L508.1,399.5 L538.8,402.5 L570.0,408.7 L575.3,411.7 L589.1,419.4 L599.8,420.3 L602.9,427.1 L610.6,439.3 L616.7,447.0 L622.8,455.2 L642.7,454.6 L667.2,457.1 L697.9,458.3 L722.4,456.8 L750.0,461.4 L760.7,467.5 L774.5,470.0 L792.8,476.1 L814.3,477.6 L818.9,481.3 L828.1,482.2 L844.9,474.5 L866.4,466.3 L884.8,462.9 L906.2,462.3 L930.7,462.3 L949.1,457.1 L961.3,450.6 L973.6,439.9 L988.9,434.7 L992.0,430.1 L981.3,417.9 L984.3,407.1 L995.0,399.5 L1005.8,401.0 L1013.4,405.0 L1033.3,406.5 L1047.1,399.5 L1054.8,392.7 L1068.4,388.3 L1086.8,383.7 L1096.0,376.1 L1111.3,370.0 L1123.5,365.4 L1141.9,362.3 L1157.2,360.8 L1178.7,362.3 L1181.7,354.6 L1175.6,347.0 L1163.4,339.3 L1148.0,333.2 L1132.7,330.1 L1120.5,336.2 L1105.1,333.2 L1089.8,333.2 L1080.6,331.7 L1079.1,327.1 L1085.2,317.9 L1092.9,305.6 L1106.7,287.2 L1120.5,290.3 L1132.7,294.9 L1141.9,288.8 L1158.8,281.1 L1166.4,275.0 L1172.5,262.7 L1184.8,247.4 L1197.1,241.3 L1201.7,226.0 L1186.3,218.3" fill="none" stroke="#000" stroke-width="4" stroke-linejoin="round" stroke-linecap="round"/><path d="M1540.2,319.4 L1537.1,325.5 L1531.0,336.2 L1521.8,351.6 L1515.7,363.8 L1509.6,376.1 L1500.4,388.3 L1491.2,400.6 L1463.6,394.5 L1445.2,406.7 L1448.3,422.0 L1451.3,440.4 L1442.2,449.6 L1423.8,449.6 L1417.6,455.7 L1402.3,464.9 L1387.0,471.1 L1379.9,477.2 L1377.5,487.0 L1352.9,482.1 L1345.6,478.4 L1330.9,489.4 L1318.6,499.2 L1303.9,506.6 L1289.2,516.4 L1284.3,525.0" fill="none" stroke="#000" stroke-width="4" stroke-linejoin="round" stroke-linecap="round"/><path d="M1186.3,218.3 L1200.1,209.1 L1221.6,203.0 L1261.4,199.9 L1289.0,204.5 L1313.5,207.6 L1331.9,216.8 L1334.9,233.6 L1344.1,253.5 L1354.8,267.3 L1362.5,281.1 L1367.1,290.3 L1383.9,293.4 L1405.4,294.9 L1417.6,301.0 L1429.9,311.7 L1439.1,320.9 L1445.2,336.2 L1460.5,340.8 L1485.0,336.2 L1491.2,330.1 L1512.6,320.9 L1540.2,319.4" fill="none" stroke="#87ceeb" stroke-width="2" stroke-linejoin="round"/><path d="M1224.2,205.1 L1260.3,202.1" fill="none" stroke="#000" stroke-width="4" stroke-linecap="round" stroke-linejoin="round"/><path d="M1313.9,206.3 L1331.3,213.3 L1332.5,220.3" fill="none" stroke="#000" stroke-width="4" stroke-linecap="round" stroke-linejoin="round"/><path d="M1340.7,249.4 L1353.5,266.8" fill="none" stroke="#000" stroke-width="4" stroke-linecap="round" stroke-linejoin="round"/><path d="M1403.5,293.6 L1424.5,306.4" fill="none" stroke="#000" stroke-width="4" stroke-linecap="round" stroke-linejoin="round"/><path d="M1459.4,340.9 L1485.0,336.7" fill="none" stroke="#000" stroke-width="4" stroke-linecap="round" stroke-linejoin="round"/><path d="M1512.9,319.2 L1540.9,319.2" fill="none" stroke="#000" stroke-width="4" stroke-linecap="round" stroke-linejoin="round"/><path d="M900.1,957.4 L881.7,954.3 L867.9,945.1 L866.4,928.2 L848.0,923.7 L835.7,916.0 L826.5,920.6 L811.2,928.2 L805.1,935.9 L792.8,928.2 L786.7,934.4 L771.4,929.8 L762.2,935.9 L748.4,937.4 L748.4,948.2 L751.5,966.5 L737.7,963.5 L736.2,952.8 L713.2,957.4 L707.1,946.6 L690.2,942.0 L694.8,923.7 L681.0,911.4 L681.0,897.6 L667.2,897.6 L651.9,903.7 L651.9,896.1 L650.4,883.8 L655.0,876.2 L667.2,862.4 L678.0,853.2 L679.5,834.8 L678.0,816.4 L668.8,811.8 L664.2,799.6 L651.9,793.4 L647.3,804.2 L641.2,810.3 L624.3,802.6 L609.0,798.7 L590.6,807.2 L572.3,814.9 L560.0,828.7 L563.3,826.5 L544.9,829.6 L523.4,831.1 L520.4,820.4 L511.2,814.3 L502.0,805.1 L477.5,800.5 L462.2,802.0 L453.0,814.3 L448.4,823.5 L443.8,814.3 L440.7,803.6 L419.3,809.7 L403.9,809.7 L388.6,803.6 L379.4,805.1 L373.3,800.5 L358.0,797.4 L354.9,791.3 L336.5,785.2 L330.4,776.0 L318.2,777.5 L299.8,762.2 L284.5,751.5 L269.1,748.4 L263.0,757.6 L253.8,751.5 L235.4,743.8 L220.1,734.6 L207.9,731.6 L201.7,713.2 L198.7,697.9 L210.9,700.9 L217.1,694.8 L212.5,682.5 L204.8,673.4 L203.3,662.6 L212.5,655.0 L198.7,648.8 L192.5,642.7 L183.4,628.9 L168.0,625.9 L155.8,621.3 L145.1,618.2 L138.9,612.1 L131.3,598.3 L116.0,592.2 L103.7,587.6 L117.5,579.9 L112.9,572.3 L111.4,560.0" fill="none" stroke="#000" stroke-width="4" stroke-linejoin="round" stroke-linecap="round"/><path d="M1284.3,525.0 L1269.6,525.0 L1254.9,528.6 L1240.2,536.0 L1227.9,540.9 L1215.7,545.8 L1210.8,548.2 L1220.6,543.3 L1224.3,533.5 L1214.5,532.3 L1220.6,525.0 L1230.4,516.4 L1236.5,509.0 L1227.9,498.0 L1215.7,499.2 L1205.9,502.9 L1196.1,511.5 L1183.8,517.6 L1174.0,523.7 L1166.7,531.1 L1156.9,538.4 L1147.1,543.3 L1132.4,540.9 L1127.5,551.9 L1132.4,560.5 L1137.3,567.8 L1147.1,565.4 L1159.3,570.3 L1156.9,582.5 L1171.6,588.7 L1183.8,582.5 L1196.1,575.2 L1215.7,577.6 L1230.4,580.1 L1245.1,582.5 L1242.6,593.6 L1230.4,593.6 L1215.7,599.7 L1203.4,607.1 L1191.2,614.4 L1186.3,612.0 L1171.6,626.7 L1166.7,641.4 L1181.4,651.2 L1191.2,661.0 L1198.5,675.7 L1203.4,690.4 L1215.7,702.6 L1225.5,710.0 L1228.9,717.1 L1224.1,721.9 L1228.9,726.7 L1227.3,734.8 L1212.8,741.2 L1203.1,747.7 L1199.9,752.5 L1209.6,750.9 L1219.3,754.1 L1228.9,760.6 L1225.7,765.4 L1219.3,770.2 L1228.9,773.5 L1230.5,779.9 L1222.5,784.8 L1222.5,796.0 L1212.8,799.3 L1211.2,804.1 L1204.8,808.9 L1196.7,821.8 L1190.2,828.3 L1177.4,834.7 L1175.7,841.2 L1175.7,854.1 L1167.7,863.7 L1159.6,873.4 L1153.2,880.0 L1132.8,897.3 L1115.7,912.0 L1103.4,920.5 L1091.2,926.7 L1071.6,929.1 L1052.0,934.0 L1039.7,936.5 L1032.4,931.6 L1027.5,943.8 L1007.8,951.2 L993.1,953.6 L973.5,958.5 L958.8,963.4 L953.9,973.2 L957.6,985.5 L945.3,987.9 L939.2,978.1 L940.4,968.3 L939.2,958.5 L927.0,959.8 L914.7,953.6 L900.0,958.5" fill="none" stroke="#000080" stroke-width="1.6" stroke-linejoin="round"/><path d="M1250.5,885.0 L1246.8,907.1" fill="none" stroke="#000" stroke-width="4.5" stroke-linecap="round"/><path d="M1229.7,954.9 L1213.7,973.2" fill="none" stroke="#000" stroke-width="4.5" stroke-linecap="round"/><path d="M1184.3,1018.6 L1172.1,1039.4" fill="none" stroke="#000" stroke-width="4.5" stroke-linecap="round"/><path d="M930.1,1085.8 L936.3,1094.4 L940.4,1106.7" fill="none" stroke="#000" stroke-width="4.5" stroke-linecap="round"/><path d="M1161.5,1089.0 L1161.8,1112.8" fill="none" stroke="#000" stroke-width="4.5" stroke-linecap="round"/><rect x="68.5" y="141.0" width="1495.5" height="973.0" fill="none" stroke="#222" stroke-width="1.6"/><path d="M115.9,141.0 L115.9,135.5 M115.9,1114.0 L115.9,1119.5 M234.7,141.0 L234.7,130.0 M234.7,1114.0 L234.7,1125.0 M353.4,141.0 L353.4,135.5 M353.4,1114.0 L353.4,1119.5 M472.1,141.0 L472.1,130.0 M472.1,1114.0 L472.1,1125.0 M590.9,141.0 L590.9,135.5 M590.9,1114.0 L590.9,1119.5 M709.6,141.0 L709.6,130.0 M709.6,1114.0 L709.6,1125.0 M828.4,141.0 L828.4,135.5 M828.4,1114.0 L828.4,1119.5 M947.1,141.0 L947.1,130.0 M947.1,1114.0 L947.1,1125.0 M1065.9,141.0 L1065.9,135.5 M1065.9,1114.0 L1065.9,1119.5 M1184.7,141.0 L1184.7,130.0 M1184.7,1114.0 L1184.7,1125.0 M1303.4,141.0 L1303.4,135.5 M1303.4,1114.0 L1303.4,1119.5 M1422.2,141.0 L1422.2,130.0 M1422.2,1114.0 L1422.2,1125.0 M1540.9,141.0 L1540.9,135.5 M1540.9,1114.0 L1540.9,1119.5 M68.5,1113.9 L63.0,1113.9 M1564.0,1113.9 L1569.5,1113.9 M68.5,995.3 L57.5,995.3 M1564.0,995.3 L1575.0,995.3 M68.5,876.6 L63.0,876.6 M1564.0,876.6 L1569.5,876.6 M68.5,758.0 L57.5,758.0 M1564.0,758.0 L1575.0,758.0 M68.5,639.3 L63.0,639.3 M1564.0,639.3 L1569.5,639.3 M68.5,520.7 L57.5,520.7 M1564.0,520.7 L1575.0,520.7 M68.5,402.0 L63.0,402.0 M1564.0,402.0 L1569.5,402.0 M68.5,283.4 L57.5,283.4 M1564.0,283.4 L1575.0,283.4 M68.5,164.7 L63.0,164.7 M1564.0,164.7 L1569.5,164.7" stroke="#222" stroke-width="1.4" fill="none"/><rect x="344.1" y="1190.5" width="58.4" height="25.0" fill="#00008b" stroke="#222" stroke-width="1"/><rect x="402.5" y="1190.5" width="58.4" height="25.0" fill="#0000cd" stroke="#222" stroke-width="1"/><rect x="460.8" y="1190.5" width="58.4" height="25.0" fill="#4169e1" stroke="#222" stroke-width="1"/><rect x="519.2" y="1190.5" width="58.4" height="25.0" fill="#1e90ff" stroke="#222" stroke-width="1"/><rect x="577.5" y="1190.5" width="58.4" height="25.0" fill="#00bfff" stroke="#222" stroke-width="1"/><rect x="635.9" y="1190.5" width="58.4" height="25.0" fill="#a0d2fa" stroke="#222" stroke-width="1"/><rect x="694.2" y="1190.5" width="58.4" height="25.0" fill="#d2f5ff" stroke="#222" stroke-width="1"/><rect x="752.5" y="1190.5" width="58.4" height="25.0" fill="#ffffc8" stroke="#222" stroke-width="1"/><rect x="810.9" y="1190.5" width="58.4" height="25.0" fill="#ffe033" stroke="#222" stroke-width="1"/><rect x="869.2" y="1190.5" width="58.4" height="25.0" fill="#ffa500" stroke="#222" stroke-width="1"/><rect x="927.6" y="1190.5" width="58.4" height="25.0" fill="#ff6a00" stroke="#222" stroke-width="1"/><rect x="986.0" y="1190.5" width="58.4" height="25.0" fill="#ff0000" stroke="#222" stroke-width="1"/><rect x="1044.3" y="1190.5" width="58.4" height="25.0" fill="#c80000" stroke="#222" stroke-width="1"/><rect x="1102.7" y="1190.5" width="58.4" height="25.0" fill="#a02026" stroke="#222" stroke-width="1"/><path d="M344.1,1190.5 L286.2,1203.0 L344.1,1215.5Z" fill="#8a2be2" stroke="#444" stroke-width="0.8"/><path d="M1161.0,1190.5 L1218,1203.0 L1161.0,1215.5Z" fill="#ff69b4" stroke="#444" stroke-width="0.8"/><rect x="1335.2" y="837.4" width="221.3" height="271.5" fill="#fff" stroke="#000" stroke-width="1.4"/><clipPath id="insc"><rect x="1335.2" y="837.4" width="221.3" height="271.5"/></clipPath><g clip-path="url(#insc)"><path d="M1329.7,829.7 L1469.9,829.7 L1465.1,838.9 L1445.7,843.0 L1433.6,846.6 L1421.5,850.2 L1399.8,853.8 L1390.1,856.3 L1385.3,862.3 L1388.9,872.0 L1381.7,875.6 L1378.0,868.4 L1379.2,858.7 L1368.4,857.5 L1356.3,856.3 L1344.2,853.8 L1329.7,851.4Z" fill="#4169e1" stroke="#000080" stroke-width="1"/><path d="M1329.7,829.7 L1397.4,829.7 L1390.1,839.3 L1379.2,851.4 L1368.4,856.3 L1356.3,856.3 L1344.2,853.8 L1329.7,851.4Z" fill="#1e90ff"/><path d="M1363.5,885.3 L1372.0,879.2 L1385.3,876.8 L1395.0,880.4 L1393.7,890.1 L1385.3,897.4 L1378.0,901.0 L1365.9,899.8Z" fill="#4169e1" stroke="#000080" stroke-width="1.2"/><path d="M1378.0,856.3 L1390.1,844.2 L1397.4,838.1" fill="none" stroke="#b4b4b4" stroke-width="2"/><path d="M1336.9,850.2 L1346.6,855.1 L1356.3,856.3" fill="none" stroke="#000" stroke-width="3.5" stroke-linecap="round"/><path d="M1518.3,837.4 L1534.0,837.4 L1530.3,844.2 L1526.7,853.8 L1523.1,844.2Z" fill="#00bfff" stroke="#000080" stroke-width="1"/><path d="M1541.2,853.8 L1527.9,871.3" fill="none" stroke="#000" stroke-width="3.8" stroke-linecap="round"/><path d="M1516.3,890.1 L1506.7,909.0" fill="none" stroke="#000" stroke-width="3.8" stroke-linecap="round"/><path d="M1503.3,930.0 L1503.8,951.8" fill="none" stroke="#000" stroke-width="3.8" stroke-linecap="round"/><path d="M1503.0,984.4 L1495.3,1004.2" fill="none" stroke="#000" stroke-width="3.8" stroke-linecap="round"/><path d="M1466.8,1037.6 L1452.5,1054.0" fill="none" stroke="#000" stroke-width="3.8" stroke-linecap="round"/><path d="M1422.8,1094.4 L1403.9,1100.0" fill="none" stroke="#000" stroke-width="3.8" stroke-linecap="round"/><path d="M1358.7,1043.6 L1359.2,1065.4" fill="none" stroke="#000" stroke-width="3.8" stroke-linecap="round"/><path d="M1385.3,977.6 L1386.5,986.8 L1382.4,995.3" fill="none" stroke="#000" stroke-width="3.8" stroke-linecap="round"/><path d="M1369.1,923.5 L1375.6,931.2 L1378.8,941.6" fill="none" stroke="#000" stroke-width="3.8" stroke-linecap="round"/><circle cx="1461.4" cy="863.5" r="0.9" fill="#000080"/><circle cx="1472.8" cy="868.4" r="0.9" fill="#000080"/><circle cx="1422.0" cy="884.1" r="0.9" fill="#000080"/><circle cx="1433.6" cy="888.2" r="0.9" fill="#000080"/><circle cx="1471.8" cy="926.4" r="0.9" fill="#000080"/><circle cx="1486.1" cy="942.1" r="0.9" fill="#000080"/><circle cx="1453.7" cy="958.5" r="0.9" fill="#000080"/><circle cx="1369.6" cy="1012.2" r="0.9" fill="#000080"/><circle cx="1376.1" cy="1044.9" r="0.9" fill="#000080"/><circle cx="1425.7" cy="1060.6" r="0.9" fill="#000080"/><circle cx="1411.4" cy="1088.4" r="0.9" fill="#000080"/><circle cx="1440.9" cy="1023.5" r="0.9" fill="#000080"/><circle cx="1432.9" cy="1027.2" r="0.9" fill="#000080"/><circle cx="1460.6" cy="993.4" r="0.9" fill="#000080"/><circle cx="1401.0" cy="1041.9" r="0.9" fill="#000080"/><circle cx="1442.0" cy="1004.0" r="0.9" fill="#000080"/><circle cx="1488.9" cy="1018.8" r="0.9" fill="#000080"/><circle cx="1471.3" cy="1019.2" r="0.9" fill="#000080"/><circle cx="1457.0" cy="998.7" r="0.9" fill="#000080"/><circle cx="1461.0" cy="1043.8" r="0.9" fill="#000080"/><circle cx="1446.6" cy="1035.8" r="0.9" fill="#000080"/><circle cx="1462.9" cy="993.3" r="0.9" fill="#000080"/><circle cx="1467.6" cy="1026.4" r="0.9" fill="#000080"/><circle cx="1444.1" cy="991.2" r="0.9" fill="#000080"/><circle cx="1477.2" cy="1019.0" r="0.9" fill="#000080"/><circle cx="1465.3" cy="1044.5" r="0.9" fill="#000080"/><circle cx="1463.7" cy="1047.1" r="0.9" fill="#000080"/><circle cx="1448.9" cy="1039.6" r="0.9" fill="#000080"/><circle cx="1439.6" cy="1048.1" r="0.9" fill="#000080"/><circle cx="1473.4" cy="995.4" r="0.9" fill="#000080"/><circle cx="1412.0" cy="1002.9" r="0.9" fill="#000080"/><circle cx="1477.8" cy="1016.7" r="0.9" fill="#000080"/><circle cx="1455.8" cy="1008.2" r="0.9" fill="#000080"/><circle cx="1454.6" cy="1013.5" r="0.9" fill="#000080"/><circle cx="1431.2" cy="1026.0" r="0.9" fill="#000080"/><circle cx="1458.5" cy="1046.1" r="0.9" fill="#000080"/><circle cx="1460.8" cy="1047.6" r="0.9" fill="#000080"/><circle cx="1472.3" cy="1051.5" r="0.9" fill="#000080"/><circle cx="1459.8" cy="999.5" r="0.9" fill="#000080"/><circle cx="1472.5" cy="1049.9" r="0.9" fill="#000080"/><circle cx="1480.7" cy="1025.0" r="0.9" fill="#000080"/><circle cx="1465.0" cy="1002.5" r="0.9" fill="#000080"/><circle cx="1474.2" cy="1025.3" r="0.9" fill="#000080"/><circle cx="1443.3" cy="993.2" r="0.9" fill="#000080"/><circle cx="1476.2" cy="1051.5" r="0.9" fill="#000080"/><circle cx="1433.3" cy="1039.6" r="0.9" fill="#000080"/><circle cx="1436.5" cy="998.7" r="0.9" fill="#000080"/><circle cx="1443.7" cy="1037.6" r="0.9" fill="#000080"/><circle cx="1477.9" cy="992.0" r="0.9" fill="#000080"/><circle cx="1460.0" cy="992.1" r="0.9" fill="#000080"/><circle cx="1464.1" cy="1010.1" r="0.9" fill="#000080"/><circle cx="1473.5" cy="1050.9" r="0.9" fill="#000080"/><circle cx="1445.0" cy="1052.0" r="0.9" fill="#000080"/><circle cx="1444.5" cy="994.1" r="0.9" fill="#000080"/><circle cx="1453.4" cy="991.2" r="0.9" fill="#000080"/><circle cx="1438.8" cy="1014.9" r="0.9" fill="#000080"/><circle cx="1454.4" cy="999.1" r="0.9" fill="#000080"/><circle cx="1431.0" cy="1043.8" r="0.9" fill="#000080"/><circle cx="1427.9" cy="1049.5" r="0.9" fill="#000080"/><circle cx="1474.3" cy="1013.0" r="0.9" fill="#000080"/><circle cx="1441.0" cy="1021.9" r="0.9" fill="#000080"/><circle cx="1461.5" cy="1026.7" r="0.9" fill="#000080"/><circle cx="1449.8" cy="1028.2" r="0.9" fill="#000080"/><circle cx="1476.6" cy="1021.1" r="0.9" fill="#000080"/><circle cx="1438.4" cy="1034.5" r="0.9" fill="#000080"/><circle cx="1440.9" cy="1008.2" r="0.9" fill="#000080"/><circle cx="1487.3" cy="1022.0" r="0.9" fill="#000080"/><circle cx="1456.6" cy="990.0" r="0.9" fill="#000080"/><circle cx="1436.9" cy="1025.7" r="0.9" fill="#000080"/><circle cx="1429.8" cy="1028.0" r="0.9" fill="#000080"/><circle cx="1456.3" cy="993.0" r="0.9" fill="#000080"/><circle cx="1460.7" cy="1018.6" r="0.9" fill="#000080"/><circle cx="1460.6" cy="1011.4" r="0.9" fill="#000080"/><circle cx="1464.7" cy="1035.6" r="0.9" fill="#000080"/><circle cx="1401.8" cy="993.1" r="0.9" fill="#000080"/><circle cx="1463.1" cy="1049.8" r="0.9" fill="#000080"/><circle cx="1422.3" cy="1017.9" r="0.9" fill="#000080"/><circle cx="1458.9" cy="1009.4" r="0.9" fill="#000080"/><circle cx="1432.3" cy="1008.9" r="0.9" fill="#000080"/><circle cx="1447.5" cy="1026.7" r="0.9" fill="#000080"/><circle cx="1426.7" cy="1013.0" r="0.9" fill="#000080"/><circle cx="1416.6" cy="916.0" r="0.9" fill="#000080"/><circle cx="1412.2" cy="929.7" r="0.9" fill="#000080"/><circle cx="1406.5" cy="919.8" r="0.9" fill="#000080"/><circle cx="1417.3" cy="920.1" r="0.9" fill="#000080"/><circle cx="1403.9" cy="923.9" r="0.9" fill="#000080"/><circle cx="1415.0" cy="917.5" r="0.9" fill="#000080"/><circle cx="1406.8" cy="922.0" r="0.9" fill="#000080"/><circle cx="1417.9" cy="924.0" r="0.9" fill="#000080"/><circle cx="1418.4" cy="918.8" r="0.9" fill="#000080"/><circle cx="1407.1" cy="928.1" r="0.9" fill="#000080"/><circle cx="1419.0" cy="924.2" r="0.9" fill="#000080"/><circle cx="1404.7" cy="917.8" r="0.9" fill="#000080"/><circle cx="1418.1" cy="1068.2" r="0.9" fill="#000080"/><circle cx="1420.1" cy="1077.6" r="0.9" fill="#000080"/><circle cx="1415.6" cy="1069.4" r="0.9" fill="#000080"/><circle cx="1420.1" cy="1074.7" r="0.9" fill="#000080"/><circle cx="1420.1" cy="1070.4" r="0.9" fill="#000080"/><circle cx="1415.2" cy="1069.6" r="0.9" fill="#000080"/><path d="M1432.4,937.3 L1438.5,931.2 L1446.9,930.0 L1448.1,933.6 L1440.9,938.5 L1433.6,939.0Z" fill="none" stroke="#000080" stroke-width="1"/></g><text x="1450.6" y="1078.2" font-size="11.8" font-weight="700" fill="#000">South China</text><text x="1450.6" y="1090.9" font-size="11.8" font-weight="700" fill="#000">Sea Islands</text><text x="1450.6" y="1103.6" font-size="11.8" font-weight="700" fill="#000">Scale 1:28 000 000</text>
<text x="23.6" y="26.2" font-size="35.1" fill="#000080" font-weight="400" text-anchor="start">Forecast start : 2025/11/10</text><text x="23.6" y="61.2" font-size="35.1" fill="#000080" font-weight="400" text-anchor="start">CMA-CPSv3 Forecast</text><text x="830" y="25.6" font-size="35" fill="#000080" font-weight="400" text-anchor="middle">Daily 2-m Air Temperature Change</text><text x="829" y="60.4" font-size="35" fill="#000080" font-weight="400" text-anchor="middle">with 2025/11/10</text><text x="1607" y="25.8" font-size="34.8" fill="#000080" font-weight="400" text-anchor="end">Date: 2025/11/20</text><text x="1607" y="52.6" font-size="23.1" fill="#000080" font-weight="400" text-anchor="end">Ensemble Size = 4</text><text x="234.7" y="113.5" font-size="23" fill="#000" font-weight="400" text-anchor="middle">80E</text><text x="234.7" y="1159" font-size="23" fill="#000" font-weight="400" text-anchor="middle">80E</text><text x="472.1" y="113.5" font-size="23" fill="#000" font-weight="400" text-anchor="middle">90E</text><text x="472.1" y="1159" font-size="23" fill="#000" font-weight="400" text-anchor="middle">90E</text><text x="709.6" y="113.5" font-size="23" fill="#000" font-weight="400" text-anchor="middle">100E</text><text x="709.6" y="1159" font-size="23" fill="#000" font-weight="400" text-anchor="middle">100E</text><text x="947.1" y="113.5" font-size="23" fill="#000" font-weight="400" text-anchor="middle">110E</text><text x="947.1" y="1159" font-size="23" fill="#000" font-weight="400" text-anchor="middle">110E</text><text x="1184.7" y="113.5" font-size="23" fill="#000" font-weight="400" text-anchor="middle">120E</text><text x="1184.7" y="1159" font-size="23" fill="#000" font-weight="400" text-anchor="middle">120E</text><text x="1422.2" y="113.5" font-size="23" fill="#000" font-weight="400" text-anchor="middle">130E</text><text x="1422.2" y="1159" font-size="23" fill="#000" font-weight="400" text-anchor="middle">130E</text><text x="42" y="1003.6" font-size="23" fill="#000" font-weight="400" text-anchor="end">20N</text><text x="1590" y="1003.6" font-size="23" fill="#000" font-weight="400" text-anchor="start">20N</text><text x="42" y="766.3" font-size="23" fill="#000" font-weight="400" text-anchor="end">30N</text><text x="1590" y="766.3" font-size="23" fill="#000" font-weight="400" text-anchor="start">30N</text><text x="42" y="529.0" font-size="23" fill="#000" font-weight="400" text-anchor="end">40N</text><text x="1590" y="529.0" font-size="23" fill="#000" font-weight="400" text-anchor="start">40N</text><text x="42" y="291.7" font-size="23" fill="#000" font-weight="400" text-anchor="end">50N</text><text x="1590" y="291.7" font-size="23" fill="#000" font-weight="400" text-anchor="start">50N</text><text x="82" y="1101.8" font-size="18.8" fill="#000" font-weight="700" text-anchor="start">Scale 1:14 000 000</text><text x="344.1" y="1239.5" font-size="23.3" fill="#000" font-weight="400" text-anchor="middle">-20</text><text x="402.5" y="1239.5" font-size="23.3" fill="#000" font-weight="400" text-anchor="middle">-16</text><text x="460.8" y="1239.5" font-size="23.3" fill="#000" font-weight="400" text-anchor="middle">-12</text><text x="519.2" y="1239.5" font-size="23.3" fill="#000" font-weight="400" text-anchor="middle">-8</text><text x="577.5" y="1239.5" font-size="23.3" fill="#000" font-weight="400" text-anchor="middle">-4</text><text x="635.9" y="1239.5" font-size="23.3" fill="#000" font-weight="400" text-anchor="middle">-2</text><text x="694.2" y="1239.5" font-size="23.3" fill="#000" font-weight="400" text-anchor="middle">-1</text><text x="752.5" y="1239.5" font-size="23.3" fill="#000" font-weight="400" text-anchor="middle">0</text><text x="810.9" y="1239.5" font-size="23.3" fill="#000" font-weight="400" text-anchor="middle">1</text><text x="869.2" y="1239.5" font-size="23.3" fill="#000" font-weight="400" text-anchor="middle">2</text><text x="927.6" y="1239.5" font-size="23.3" fill="#000" font-weight="400" text-anchor="middle">4</text><text x="986.0" y="1239.5" font-size="23.3" fill="#000" font-weight="400" text-anchor="middle">8</text><text x="1044.3" y="1239.5" font-size="23.3" fill="#000" font-weight="400" text-anchor="middle">12</text><text x="1102.7" y="1239.5" font-size="23.3" fill="#000" font-weight="400" text-anchor="middle">16</text><text x="1161.0" y="1239.5" font-size="23.3" fill="#000" font-weight="400" text-anchor="middle">20</text><text x="1230" y="1224" font-size="30" fill="#000" font-weight="400" text-anchor="start">degC</text>
</svg>
</body></html>
